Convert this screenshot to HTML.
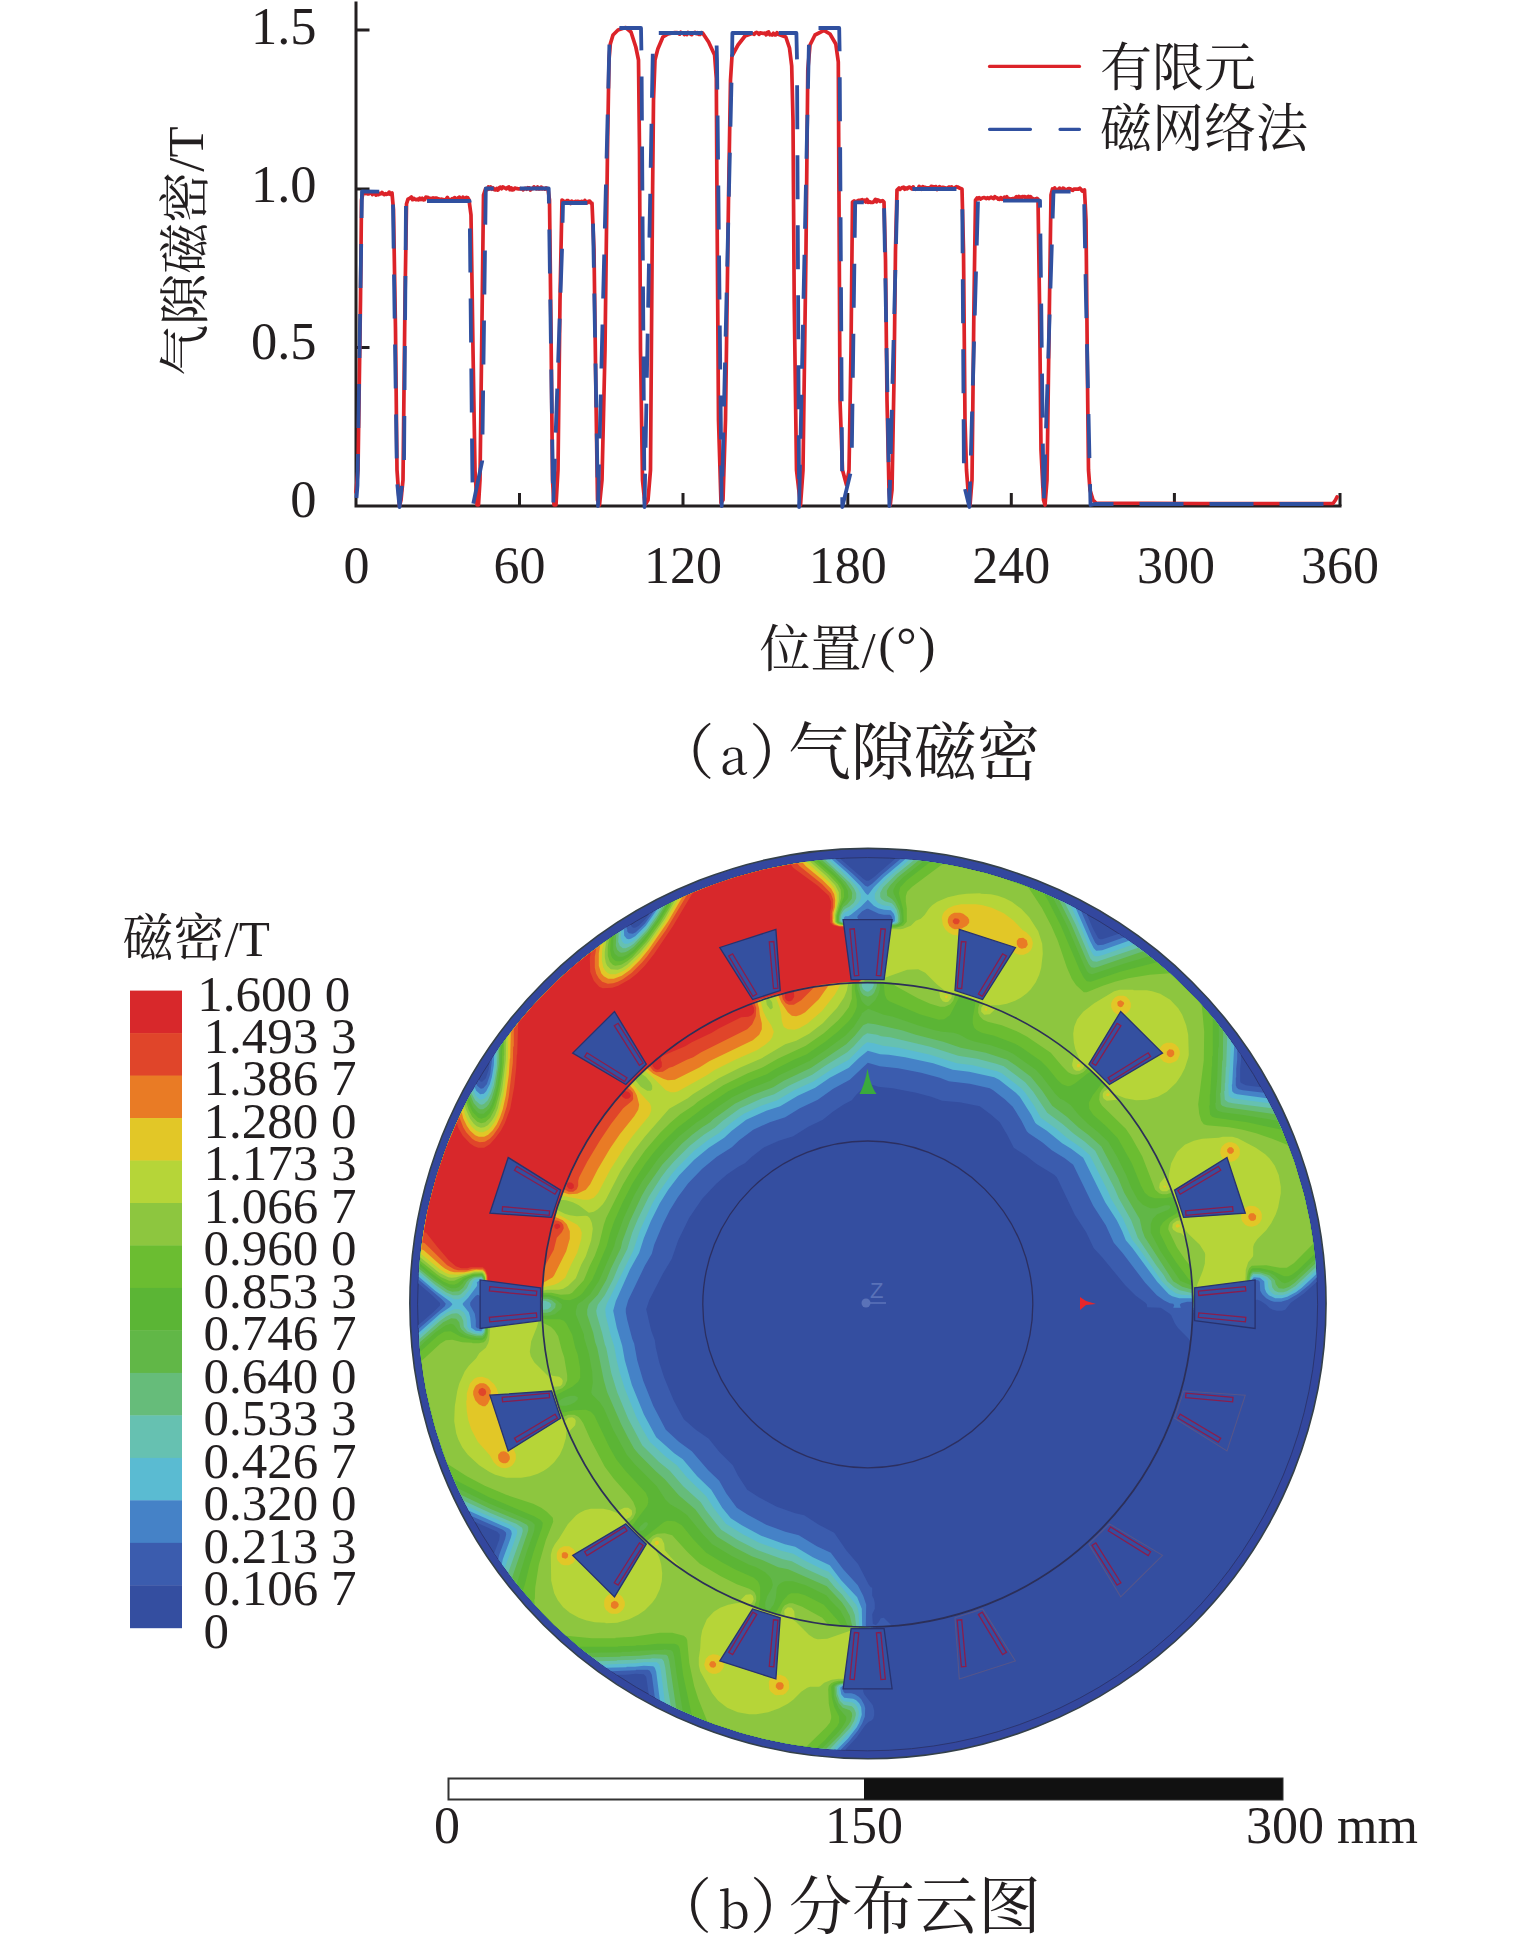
<!DOCTYPE html>
<html><head><meta charset="utf-8">
<style>
html,body{margin:0;padding:0;background:#fff;}
body{width:1535px;height:1946px;overflow:hidden;position:relative;}
svg{position:absolute;left:0;top:0;}
.t{font-family:"Liberation Serif","Noto Serif CJK SC",serif;fill:#231f20;}
.c{font-family:"Liberation Serif","Noto Serif CJK SC",serif;fill:#231f20;}
</style></head><body>
<svg width="1535" height="1946" viewBox="0 0 1535 1946" xmlns="http://www.w3.org/2000/svg">
<g id="chart">
<path d="M356,1.5 V506 H1341.5" fill="none" stroke="#231f20" stroke-width="3"/>
<path d="M356,30 H369.5 M356,189 H369.5 M356,347.5 H369.5 M519.5,506 V493 M683,506 V493 M847.8,506 V493 M1011.3,506 V493 M1174.4,506 V493 M1340,506 V493" stroke="#231f20" stroke-width="3" fill="none"/>
<path d="M356.0,492.0 L358.0,470.0 L360.5,300.0 L361.5,200.0 L363.0,193.0 L364.0,192.7 L365.2,193.6 L366.4,193.1 L367.6,193.8 L368.8,193.9 L370.0,192.1 L371.2,191.9 L372.4,194.6 L373.6,192.7 L374.8,192.6 L376.0,195.1 L377.2,193.4 L378.4,194.6 L379.6,193.4 L380.8,193.9 L382.0,192.4 L383.2,193.9 L384.4,194.7 L385.6,193.6 L386.8,194.3 L388.0,194.0 L389.2,192.1 L390.4,194.3 L392.0,193.0 L393.5,210.0 L395.5,330.0 L397.0,470.0 L399.5,506.0 L401.0,500.0 L403.0,480.0 L405.0,300.0 L406.5,204.0 L408.0,199.0 L409.0,198.8 L410.2,197.9 L411.4,197.0 L412.6,199.7 L413.8,198.4 L415.0,199.2 L416.2,199.7 L417.4,199.2 L418.6,199.8 L419.8,198.2 L421.0,199.5 L422.2,198.3 L423.4,199.9 L424.6,199.7 L425.8,197.2 L427.0,197.3 L428.2,197.6 L429.4,200.0 L430.6,198.3 L431.8,198.9 L433.0,197.9 L434.2,198.5 L435.4,198.1 L436.6,198.0 L437.8,198.8 L439.0,198.8 L440.2,199.8 L441.4,199.1 L442.6,199.9 L443.8,199.6 L445.0,200.1 L446.2,199.0 L447.4,197.4 L448.6,199.7 L449.8,200.0 L451.0,199.8 L452.2,198.7 L453.4,199.2 L454.6,197.6 L455.8,199.6 L457.0,198.7 L458.2,197.8 L459.4,197.1 L460.6,199.6 L461.8,200.1 L463.0,197.2 L464.2,199.5 L465.4,198.2 L466.6,197.4 L467.8,197.8 L469.0,200.0 L471.0,215.0 L473.0,350.0 L475.0,470.0 L477.0,505.0 L478.5,505.0 L480.0,480.0 L482.0,320.0 L483.5,195.0 L485.5,189.0 L486.0,189.4 L487.2,189.7 L488.4,187.0 L489.6,188.9 L490.8,187.0 L492.0,189.2 L493.2,188.0 L494.4,189.7 L495.6,190.0 L496.8,188.5 L498.0,190.1 L499.2,187.9 L500.4,187.1 L501.6,188.8 L502.8,187.0 L504.0,187.5 L505.2,188.2 L506.4,188.9 L507.6,187.4 L508.8,187.0 L510.0,189.7 L511.2,187.9 L512.4,190.0 L513.6,189.8 L514.8,188.1 L516.0,188.4 L517.2,188.6 L518.4,189.0 L519.6,188.8 L520.8,188.7 L522.0,188.9 L523.2,189.9 L524.4,188.5 L525.6,188.3 L526.8,189.2 L528.0,187.7 L529.2,187.9 L530.4,190.0 L531.6,188.6 L532.8,188.7 L534.0,186.9 L535.2,188.2 L536.4,188.8 L537.6,187.0 L538.8,188.9 L540.0,188.9 L541.2,187.1 L542.4,188.9 L543.6,188.4 L544.8,189.1 L546.0,188.0 L548.0,189.0 L549.5,200.0 L551.0,330.0 L552.5,480.0 L554.0,505.0 L556.0,505.0 L558.0,470.0 L560.0,300.0 L562.0,200.0 L563.5,201.0 L564.5,202.7 L565.7,202.8 L566.9,200.5 L568.1,200.6 L569.3,202.6 L570.5,203.5 L571.7,201.2 L572.9,201.9 L574.1,202.3 L575.3,201.4 L576.5,201.6 L577.7,201.4 L578.9,201.6 L580.1,202.3 L581.3,201.4 L582.5,201.6 L583.7,202.9 L584.9,200.5 L586.1,202.2 L587.3,202.8 L588.5,201.4 L589.7,201.1 L590.9,203.0 L592.0,203.0 L594.0,250.0 L596.0,400.0 L597.5,500.0 L599.5,505.0 L602.0,480.0 L605.0,350.0 L607.5,150.0 L609.0,60.0 L610.3,44.0 L613.0,35.0 L618.0,30.0 L625.6,27.5 L631.0,32.0 L635.8,47.0 L638.5,60.0 L639.5,150.0 L640.5,350.0 L642.5,480.0 L645.0,505.0 L648.0,500.0 L650.5,470.0 L652.5,200.0 L653.5,100.0 L655.0,60.0 L657.8,49.0 L662.9,37.0 L668.0,34.0 L674.7,32.5 L676.0,32.7 L677.2,32.6 L678.4,33.3 L679.6,34.1 L680.8,32.3 L682.0,33.0 L683.2,33.0 L684.4,34.5 L685.6,33.3 L686.8,34.6 L688.0,32.5 L689.2,33.0 L690.4,34.0 L691.6,34.7 L692.8,33.4 L694.0,32.7 L695.2,32.4 L696.4,33.6 L697.6,32.6 L698.8,34.4 L700.0,34.5 L701.2,32.6 L702.4,32.8 L703.6,34.4 L708.6,42.0 L714.6,55.0 L716.3,78.0 L717.0,200.0 L718.5,420.0 L721.0,503.0 L723.0,500.0 L725.5,420.0 L728.5,200.0 L730.5,80.0 L732.0,56.0 L738.0,45.0 L745.0,36.0 L752.0,33.5 L753.0,33.9 L754.2,34.4 L755.4,33.0 L756.6,32.4 L757.8,32.9 L759.0,34.4 L760.2,32.8 L761.4,33.0 L762.6,33.3 L763.8,33.3 L765.0,33.2 L766.2,34.8 L767.4,32.5 L768.6,32.0 L769.8,34.8 L771.0,34.6 L772.2,35.0 L773.4,33.3 L774.6,34.9 L775.8,34.8 L777.0,32.7 L778.2,34.2 L785.8,37.0 L789.5,48.0 L791.7,66.0 L793.0,120.0 L794.2,300.0 L796.5,470.0 L800.5,505.0 L803.0,470.0 L806.0,250.0 L807.8,70.0 L810.0,45.0 L815.0,35.0 L823.9,30.3 L830.0,34.0 L835.8,44.0 L838.3,62.0 L839.0,200.0 L840.0,400.0 L842.5,470.0 L846.5,485.0 L849.0,470.0 L851.0,350.0 L852.0,250.0 L852.5,202.0 L854.0,201.0 L855.0,202.1 L856.2,201.5 L857.4,201.1 L858.6,200.3 L859.8,200.5 L861.0,200.1 L862.2,199.6 L863.4,201.3 L864.6,200.3 L865.8,202.0 L867.0,199.5 L868.2,202.3 L869.4,201.6 L870.6,202.4 L871.8,202.3 L873.0,202.3 L874.2,201.2 L875.4,199.4 L876.6,201.8 L877.8,199.9 L879.0,200.4 L880.2,201.5 L881.4,201.1 L882.6,200.7 L884.0,202.0 L885.5,260.0 L887.0,400.0 L889.0,490.0 L890.2,505.0 L892.0,490.0 L894.0,380.0 L895.5,250.0 L897.0,190.0 L899.0,188.0 L900.0,189.4 L901.2,188.4 L902.4,187.5 L903.6,187.2 L904.8,189.2 L906.0,187.9 L907.2,188.9 L908.4,187.5 L909.6,187.0 L910.8,188.1 L912.0,189.0 L913.2,186.9 L914.4,188.9 L915.6,189.3 L916.8,189.0 L918.0,189.0 L919.2,186.4 L920.4,188.4 L921.6,189.2 L922.8,186.6 L924.0,187.3 L925.2,187.3 L926.4,188.1 L927.6,187.8 L928.8,187.9 L930.0,188.9 L931.2,186.4 L932.4,186.6 L933.6,186.8 L934.8,186.8 L936.0,186.6 L937.2,189.5 L938.4,189.1 L939.6,186.7 L940.8,188.0 L942.0,187.4 L943.2,187.4 L944.4,187.5 L945.6,188.5 L946.8,188.3 L948.0,187.6 L949.2,187.0 L950.4,187.5 L951.6,186.8 L952.8,188.2 L954.0,188.7 L955.2,187.6 L956.4,186.7 L957.6,187.0 L958.8,187.6 L960.0,188.3 L962.0,189.0 L963.5,250.0 L965.0,420.0 L966.5,470.0 L968.0,490.0 L970.0,505.0 L972.0,480.0 L974.0,300.0 L975.5,200.0 L977.0,198.0 L978.0,198.9 L979.2,197.6 L980.4,199.0 L981.6,198.4 L982.8,197.8 L984.0,197.6 L985.2,198.0 L986.4,198.6 L987.6,197.7 L988.8,198.6 L990.0,197.9 L991.2,197.2 L992.4,198.1 L993.6,198.6 L994.8,196.6 L996.0,197.8 L997.2,197.8 L998.4,199.2 L999.6,199.4 L1000.8,197.6 L1002.0,199.3 L1003.2,198.9 L1004.4,197.2 L1005.6,197.9 L1006.8,196.8 L1008.0,199.0 L1009.2,198.5 L1010.4,199.2 L1011.6,198.9 L1012.8,198.5 L1014.0,198.7 L1015.2,198.2 L1016.4,196.7 L1017.6,198.3 L1018.8,196.4 L1020.0,196.9 L1021.2,198.9 L1022.4,196.5 L1023.6,196.7 L1024.8,196.7 L1026.0,199.2 L1027.2,197.0 L1028.4,196.5 L1029.6,199.1 L1030.8,196.8 L1032.0,199.1 L1033.2,198.6 L1034.4,199.1 L1035.6,199.4 L1036.8,198.3 L1038.0,199.0 L1039.5,300.0 L1041.0,450.0 L1043.5,500.0 L1045.0,505.0 L1047.0,480.0 L1049.5,300.0 L1051.0,195.0 L1052.5,189.0 L1053.5,190.5 L1054.7,188.0 L1055.9,190.4 L1057.1,189.5 L1058.3,190.2 L1059.5,188.2 L1060.7,190.3 L1061.9,190.9 L1063.1,188.1 L1064.3,188.9 L1065.5,189.7 L1066.7,190.5 L1067.9,188.7 L1069.1,188.5 L1070.3,188.7 L1071.5,189.9 L1072.7,190.3 L1073.9,189.2 L1075.1,189.1 L1076.3,189.2 L1077.5,189.0 L1078.7,189.2 L1079.9,188.2 L1081.1,189.5 L1082.3,191.0 L1084.5,190.0 L1086.0,220.0 L1087.7,400.0 L1088.5,470.0 L1090.0,490.0 L1093.0,500.0 L1096.0,503.0 L1200.0,503.5 L1333.0,503.5 L1335.5,500.0 L1337.0,497.0" fill="none" stroke="#dc2329" stroke-width="3.7" stroke-linejoin="round" stroke-linecap="round"/>
<path d="M356.5,498.0 L357.5,485.0 L362.0,191.3 L392.8,192.0 L397.0,481.0 L399.5,507.0 L404.0,467.0 L406.0,201.0 L469.6,201.0 L472.3,469.0 L472.8,506.0 L482.2,461.0 L485.8,188.5 L548.7,188.5 L553.2,506.0 L562.0,250.0 L563.0,203.0 L592.7,203.0 L598.0,506.0 L609.5,40.0 L610.0,28.0 L641.0,28.0 L641.5,56.0 L644.5,507.0 L653.0,41.0 L653.5,33.0 L716.3,33.0 L717.0,60.0 L721.7,506.0 L732.0,60.0 L732.4,33.0 L796.4,33.0 L797.0,60.0 L799.1,507.0 L809.0,40.0 L809.3,28.0 L839.2,28.0 L839.6,50.0 L842.3,507.0 L851.6,468.6 L855.2,202.4 L884.0,202.4 L889.4,506.0 L897.4,189.0 L962.2,189.0 L964.0,485.0 L969.4,507.0 L978.0,200.6 L1040.0,200.6 L1043.6,506.0 L1053.5,191.6 L1084.0,191.6 L1086.0,300.0 L1090.5,505.0 L1095.0,504.0 L1338.0,504.0" fill="none" stroke="#3050a0" stroke-width="3.8" stroke-dasharray="44 26" stroke-linejoin="round"/>
<g class="t" font-size="52.5" text-anchor="end" transform="translate(3.5,0)">
<text x="313" y="43.5">1.5</text>
<text x="313" y="201.5">1.0</text>
<text x="313" y="358.5">0.5</text>
<text x="313" y="516.5">0</text>
</g>
<g class="t" font-size="52" text-anchor="middle">
<text x="356.5" y="583">0</text>
<text x="519.5" y="583">60</text>
<text x="683" y="583">120</text>
<text x="847.8" y="583">180</text>
<text x="1011.3" y="583">240</text>
<text x="1176" y="583">300</text>
<text x="1340" y="583">360</text>
</g>
<text class="c" font-size="51" transform="translate(202.5,251) rotate(-90)" text-anchor="middle">气隙磁密/T</text>
<text class="c" font-size="51" x="759.5" y="667">位置/<tspan dx="2.5" dy="-5">(</tspan><tspan dx="1">°</tspan><tspan dx="2">)</tspan></text>
<path d="M989.5,66.4 H1079.5" stroke="#dc2329" stroke-width="3.2" stroke-linecap="round"/>
<path d="M989.5,129.3 H1030.5 M1060,129.3 H1079.5" stroke="#3050a0" stroke-width="3.2" stroke-linecap="round"/>
<text class="c" font-size="52" x="1100" y="85.5">有限元</text>
<text class="c" font-size="52" x="1100" y="147">磁网络法</text>
<text class="c" font-size="60" y="773.5"><tspan x="654.5">（</tspan><tspan x="720" font-family="Noto Serif CJK SC" font-size="50">a</tspan><tspan x="749">）</tspan><tspan x="788" font-size="63">气隙磁密</tspan></text>
</g>
<g id="contour">
<ellipse cx="867.95" cy="1303.6" rx="458.1" ry="455.2" fill="#33479e" stroke="#34404a" stroke-width="1.6"/>
<ellipse cx="867.6" cy="1304.2" rx="450.0" ry="446.62" fill="#344ea0" stroke="#2b3570" stroke-width="1"/>
<path fill="#3b5cae" fill-rule="evenodd" d="M899.8,858.8 895.2,858.8 873.8,877.2 868.8,880.8 866.2,880.8 863.2,878.8 840.2,858.8 814.2,860.8 784.8,865.2 763.2,869.8 730.8,878.8 711.8,885.2 686.8,895.2 649.2,913.8 645.8,918.8 638.8,925.8 635.2,927.8 633.2,927.8 631.8,926.8 630.8,924.8 626.2,927.2 601.2,944.2 572.2,967.2 556.2,981.8 540.2,997.8 529.2,1009.8 512.2,1030.2 500.2,1046.2 489.8,1061.8 488.8,1069.2 485.8,1078.2 482.2,1081.8 480.8,1081.8 478.8,1079.8 466.8,1101.2 455.8,1124.2 443.8,1154.2 433.8,1185.8 429.2,1203.2 424.2,1227.8 420.8,1251.8 419.2,1272.2 418.8,1272.8 418.2,1283.2 432.2,1295.2 439.8,1302.8 440.2,1304.2 439.8,1305.8 433.2,1312.2 418.2,1325.2 418.2,1327.8 418.8,1328.2 418.8,1335.8 419.2,1336.2 420.8,1356.8 425.8,1388.8 433.8,1422.8 443.2,1452.8 456.2,1485.2 474.8,1521.8 497.2,1531.8 499.8,1534.8 499.2,1539.8 494.2,1553.2 510.8,1576.2 530.2,1599.8 542.2,1612.8 562.2,1632.2 583.8,1650.8 602.8,1665.2 616.8,1674.8 626.2,1674.8 635.8,1673.8 643.8,1674.2 646.2,1676.8 648.8,1694.2 673.8,1707.2 709.2,1722.2 734.2,1730.8 751.8,1735.8 772.8,1740.8 796.8,1745.2 836.8,1749.8 845.2,1749.8 856.8,1737.2 865.2,1725.2 868.8,1721.8 871.2,1720.8 873.2,1718.8 874.2,1715.2 874.2,1710.8 872.8,1705.2 864.2,1694.2 863.2,1691.8 863.2,1689.2 864.8,1687.8 874.2,1685.2 877.2,1681.8 877.8,1678.2 877.2,1657.2 876.8,1656.8 876.8,1641.2 876.2,1640.8 875.8,1626.8 876.2,1626.2 891.8,1625.8 883.8,1617.8 880.8,1618.2 878.2,1622.8 875.8,1625.2 872.8,1623.8 872.2,1614.2 874.8,1608.8 874.8,1603.2 873.8,1598.8 872.2,1595.8 872.2,1587.8 870.8,1587.2 868.8,1584.8 858.2,1564.2 846.2,1550.2 834.2,1532.8 818.8,1524.8 804.2,1515.2 795.2,1513.2 776.8,1506.8 758.8,1497.2 747.2,1489.8 737.8,1475.2 732.8,1465.2 719.2,1451.8 708.8,1438.8 695.8,1429.8 683.8,1419.2 673.8,1400.8 664.2,1377.8 659.2,1362.2 655.8,1347.8 654.8,1340.2 651.2,1330.8 646.2,1309.2 649.2,1300.2 662.8,1273.8 671.8,1258.8 678.2,1240.2 689.2,1217.8 702.2,1198.8 716.2,1183.8 727.2,1174.2 738.2,1166.8 744.8,1163.2 751.8,1156.8 764.2,1147.2 778.8,1140.8 793.2,1136.2 808.2,1126.8 822.8,1119.8 832.8,1111.8 843.2,1104.8 851.8,1100.2 856.2,1094.8 867.2,1083.8 869.2,1083.8 878.2,1086.8 892.8,1088.2 916.2,1092.8 931.2,1096.8 942.2,1100.8 959.8,1102.2 979.8,1106.2 991.2,1114.8 999.8,1122.2 1007.2,1134.8 1013.8,1147.8 1026.2,1155.8 1036.2,1163.8 1054.2,1174.8 1056.8,1177.2 1074.8,1214.8 1086.2,1232.2 1093.8,1248.2 1102.2,1257.2 1124.8,1284.8 1135.8,1295.8 1144.8,1302.2 1146.8,1304.2 1147.2,1307.2 1160.8,1307.8 1169.8,1313.8 1171.2,1315.2 1174.8,1323.2 1177.8,1327.8 1188.2,1338.2 1190.2,1341.2 1191.8,1327.2 1192.2,1312.8 1192.8,1312.2 1193.2,1312.8 1221.8,1313.2 1222.2,1313.8 1240.2,1313.8 1240.8,1314.2 1247.8,1313.8 1251.2,1311.2 1253.2,1306.2 1254.2,1300.8 1255.8,1299.8 1257.8,1299.8 1261.2,1301.2 1266.2,1304.8 1269.8,1308.2 1272.8,1309.8 1276.8,1310.8 1282.2,1310.8 1285.2,1309.8 1290.8,1302.8 1304.2,1293.2 1316.8,1281.8 1315.8,1263.8 1313.2,1242.2 1306.8,1206.8 1301.8,1186.8 1295.8,1166.8 1282.2,1130.8 1276.2,1117.2 1260.8,1087.2 1245.8,1085.2 1240.8,1082.8 1240.2,1081.2 1240.2,1068.2 1241.2,1059.2 1240.8,1054.8 1223.8,1031.2 1197.8,1000.8 1175.8,978.8 1158.2,963.2 1133.2,943.8 1118.8,933.8 1102.2,939.2 1100.2,939.2 1098.2,938.2 1092.8,928.2 1086.8,914.2 1063.8,902.2 1043.8,893.2 1020.8,884.2 985.8,873.2 947.8,864.8 928.8,861.8Z"/>
<path fill="#4582c7" fill-rule="evenodd" d="M906.2,859.2 900.2,859.2 881.8,874.8 872.2,883.8 867.8,886.8 865.2,885.8 853.2,874.2 835.2,858.8 806.2,861.8 784.8,865.2 763.2,869.8 730.8,878.8 711.8,885.2 690.2,893.8 653.8,911.2 644.8,923.8 635.8,932.2 632.8,933.8 628.8,933.2 627.2,931.2 627.2,929.2 626.2,927.2 601.2,944.2 575.8,964.2 556.2,981.8 540.2,997.8 529.2,1009.8 512.2,1030.2 500.2,1046.2 492.2,1058.2 490.2,1074.2 486.8,1084.2 483.2,1088.2 480.8,1088.8 477.2,1085.8 476.2,1083.8 466.8,1101.2 451.2,1134.8 443.8,1154.2 435.8,1178.8 429.2,1203.2 425.2,1222.2 421.8,1243.8 419.2,1266.2 418.8,1279.8 441.8,1299.2 445.8,1303.8 444.8,1306.2 418.8,1328.8 419.8,1347.8 423.8,1377.8 429.8,1407.2 437.8,1436.2 443.2,1452.8 451.8,1474.8 458.8,1490.8 471.8,1516.2 502.8,1529.8 505.8,1532.2 506.2,1534.2 505.2,1538.8 499.2,1554.8 498.2,1559.2 510.8,1576.2 523.8,1592.2 542.2,1612.8 562.2,1632.2 586.2,1652.8 611.2,1671.2 635.8,1670.2 636.2,1669.8 647.8,1669.8 649.8,1670.8 651.8,1674.8 654.8,1697.2 656.8,1698.8 673.8,1707.2 695.2,1716.8 714.8,1724.2 739.2,1732.2 763.8,1738.8 785.2,1743.2 807.2,1746.8 830.2,1749.2 840.8,1749.8 849.2,1741.2 857.8,1730.8 862.2,1723.2 864.8,1716.8 865.2,1708.2 864.2,1704.8 861.2,1699.2 858.8,1696.8 854.8,1694.2 851.2,1693.2 844.8,1693.2 843.2,1691.2 842.8,1687.8 844.2,1686.8 857.8,1687.2 867.2,1685.8 872.2,1683.8 874.8,1678.8 874.2,1645.8 873.8,1645.2 873.2,1626.8 866.8,1627.2 865.8,1625.2 866.2,1604.8 863.2,1595.8 857.8,1585.2 843.2,1569.2 830.8,1552.8 816.8,1546.2 798.8,1535.2 785.2,1531.8 766.2,1524.8 747.8,1514.8 736.8,1507.8 726.2,1493.2 719.2,1480.8 708.2,1470.2 691.8,1451.2 678.8,1441.8 665.8,1429.8 653.2,1405.8 643.2,1380.8 637.2,1360.2 634.2,1343.8 632.2,1338.8 627.2,1319.8 625.8,1312.2 625.8,1308.8 628.2,1300.2 644.8,1265.8 651.8,1253.8 654.2,1244.8 662.8,1224.2 669.8,1210.2 677.8,1197.2 688.2,1183.2 702.2,1168.8 716.8,1156.8 731.8,1147.2 739.2,1140.2 753.2,1129.8 769.8,1122.2 785.2,1117.2 799.8,1108.2 817.8,1099.8 833.2,1088.8 849.8,1079.8 867.8,1062.8 879.8,1066.2 898.2,1068.2 921.2,1072.8 939.8,1077.8 948.8,1081.2 969.8,1083.8 989.8,1088.2 993.2,1090.2 1004.8,1099.2 1012.8,1106.8 1021.2,1120.2 1026.8,1131.2 1028.8,1133.2 1042.2,1142.2 1051.8,1150.2 1064.8,1158.2 1073.2,1164.8 1093.2,1205.8 1105.8,1225.2 1113.8,1242.8 1122.8,1253.2 1145.2,1282.8 1156.8,1295.2 1163.8,1300.2 1169.8,1303.2 1173.2,1303.8 1174.2,1305.2 1173.2,1307.8 1180.8,1307.8 1179.8,1304.8 1181.2,1303.2 1187.2,1301.8 1192.2,1301.8 1192.8,1302.2 1192.8,1309.8 1195.2,1310.2 1245.8,1311.2 1248.2,1310.2 1250.2,1308.2 1251.8,1304.8 1253.8,1290.8 1253.2,1280.8 1254.2,1279.8 1258.2,1280.2 1259.8,1281.8 1260.2,1290.8 1262.2,1294.2 1266.2,1298.2 1270.8,1300.8 1274.2,1301.8 1281.2,1301.8 1287.8,1299.8 1298.2,1293.8 1308.8,1285.2 1316.8,1277.2 1313.2,1242.2 1309.8,1221.2 1304.8,1198.2 1293.8,1160.8 1280.8,1127.2 1263.8,1092.8 1242.8,1090.2 1238.8,1089.2 1236.8,1087.8 1235.8,1085.2 1235.8,1077.8 1236.2,1077.2 1236.2,1068.8 1237.2,1059.8 1237.2,1049.8 1215.8,1021.2 1197.8,1000.8 1175.8,978.8 1165.2,969.2 1145.2,952.8 1124.8,937.8 1122.8,937.8 1103.2,944.8 1097.8,945.2 1095.2,942.8 1091.8,935.8 1081.2,911.2 1063.8,902.2 1043.8,893.2 1020.8,884.2 985.8,873.2 947.8,864.8 928.8,861.8ZM477.8,1294.8 480.8,1296.2 481.8,1299.8 481.8,1325.2 482.2,1326.8 481.2,1328.8 477.2,1328.2 475.8,1326.8 475.8,1320.2 474.8,1313.8 470.2,1305.2 470.2,1302.8 471.8,1300.2 475.8,1295.8ZM857.2,917.2 857.8,915.8 862.2,911.2 866.8,908.8 868.2,908.8 878.8,913.8 883.8,914.8 889.8,914.8 891.2,915.8 892.2,917.8 892.2,920.8 890.8,921.8 888.8,921.2 862.8,921.2 858.8,920.2Z"/>
<path fill="#5abbd2" fill-rule="evenodd" d="M905.2,859.2 883.8,877.2 873.8,887.2 868.2,894.8 867.2,894.8 865.2,892.8 860.2,885.8 847.2,872.8 831.8,859.2 806.2,861.8 784.8,865.2 763.2,869.8 730.8,878.8 711.8,885.2 690.2,893.8 656.8,909.8 645.8,925.8 635.2,936.2 630.8,938.8 628.8,939.2 626.8,938.8 624.2,935.8 623.8,929.2 601.2,944.2 575.8,964.2 556.2,981.8 533.8,1004.8 518.2,1022.8 500.2,1046.2 494.2,1055.2 493.8,1065.2 491.8,1077.2 489.8,1084.2 486.2,1091.2 483.8,1093.8 480.2,1094.2 476.2,1090.8 474.8,1087.2 466.8,1101.2 451.2,1134.8 443.8,1154.2 435.8,1178.8 429.2,1203.2 425.2,1222.2 421.8,1243.8 419.2,1266.2 418.8,1276.8 435.2,1290.8 449.8,1301.2 452.2,1303.8 452.2,1304.8 449.8,1307.2 440.2,1313.8 418.8,1332.8 420.8,1356.8 425.8,1388.8 431.8,1415.2 437.8,1436.2 443.2,1452.8 451.8,1474.8 458.8,1490.8 468.8,1510.8 509.2,1528.8 511.2,1530.8 511.8,1533.8 510.8,1537.8 502.8,1559.2 501.8,1564.2 523.8,1592.2 542.2,1612.8 562.2,1632.2 583.8,1650.8 606.2,1667.8 626.2,1667.2 626.8,1666.8 634.8,1666.8 643.8,1665.8 653.2,1666.2 654.8,1667.8 656.2,1671.8 659.8,1699.8 660.8,1700.8 695.2,1716.8 714.8,1724.2 739.2,1732.2 763.8,1738.8 785.2,1743.2 807.2,1746.8 830.2,1749.2 836.2,1749.2 836.8,1749.8 847.8,1738.8 856.8,1727.2 859.2,1722.8 861.8,1714.8 861.2,1707.2 859.2,1703.2 856.2,1700.2 853.2,1698.8 844.2,1697.8 841.2,1694.2 840.2,1687.8 842.8,1685.8 856.2,1686.2 866.2,1684.8 870.2,1682.8 872.2,1679.2 871.2,1626.8 864.8,1627.2 862.2,1626.2 861.8,1608.8 857.2,1597.2 841.2,1580.2 829.8,1565.2 812.8,1557.2 795.2,1546.8 784.8,1544.2 761.2,1535.8 741.8,1525.2 730.8,1518.2 722.2,1507.8 711.2,1489.8 697.2,1476.2 682.8,1459.2 674.2,1453.2 656.2,1437.2 643.8,1414.2 631.8,1384.8 624.8,1360.2 622.2,1345.8 616.8,1327.8 613.2,1310.8 615.8,1301.2 629.8,1269.8 639.2,1252.8 643.8,1238.2 650.8,1221.2 659.8,1203.2 668.2,1189.8 679.2,1175.2 694.2,1159.8 708.8,1147.8 724.2,1137.8 731.8,1130.8 746.2,1119.8 766.2,1110.8 780.2,1106.2 797.8,1095.8 815.2,1087.8 829.8,1077.8 848.8,1067.8 859.2,1057.8 867.8,1050.8 880.2,1054.2 888.8,1054.8 905.2,1057.2 933.2,1063.2 952.8,1069.8 969.2,1071.8 994.2,1077.2 999.2,1079.8 1015.8,1092.8 1019.8,1096.8 1031.2,1114.8 1035.2,1122.8 1036.8,1124.2 1046.8,1130.8 1062.2,1143.2 1071.2,1148.8 1083.2,1157.8 1105.2,1202.2 1116.8,1220.2 1122.2,1231.2 1125.8,1240.2 1132.2,1247.8 1157.2,1281.8 1168.8,1294.2 1172.2,1296.2 1179.2,1298.2 1191.2,1298.2 1192.8,1299.2 1192.8,1307.8 1217.8,1308.2 1218.2,1308.8 1245.8,1308.8 1247.2,1308.2 1249.8,1305.8 1251.2,1301.8 1252.2,1296.2 1252.2,1282.2 1251.8,1281.8 1252.2,1279.2 1253.8,1277.2 1259.8,1277.8 1264.2,1281.2 1264.8,1288.8 1266.2,1292.2 1268.8,1295.2 1275.2,1298.2 1281.8,1298.2 1287.2,1296.8 1295.8,1292.2 1301.8,1287.8 1316.2,1274.2 1315.8,1263.8 1313.2,1242.2 1309.8,1221.2 1304.8,1198.2 1293.8,1160.8 1280.8,1127.2 1266.8,1098.2 1237.2,1094.2 1234.2,1093.2 1232.2,1091.2 1231.8,1084.8 1232.2,1084.2 1234.2,1045.8 1215.8,1021.2 1197.8,1000.8 1175.8,978.8 1165.2,969.2 1145.2,952.8 1128.8,940.8 1102.2,950.2 1096.2,950.8 1093.8,948.2 1090.2,941.2 1075.8,908.2 1063.8,902.2 1043.8,893.2 1020.8,884.2 985.8,873.2 947.8,864.8 928.8,861.8ZM479.8,1280.2 481.8,1281.2 481.2,1292.2 482.8,1299.2 483.2,1328.2 481.2,1331.2 475.8,1330.8 471.2,1327.8 470.2,1317.2 468.8,1312.2 462.8,1304.8 462.8,1303.2 468.2,1297.8 476.8,1286.2 477.2,1284.8 476.8,1282.2ZM843.8,917.8 845.2,916.2 848.2,916.2 850.8,914.8 860.8,906.8 867.8,899.8 873.8,905.8 878.2,908.2 884.2,909.8 890.8,910.2 893.8,913.8 894.8,916.8 894.8,921.2 891.8,922.8 862.2,922.2 854.8,920.8 844.2,921.2Z"/>
<path fill="#66c1b1" fill-rule="evenodd" d="M911.8,859.8 908.8,860.2 887.2,878.2 879.8,885.8 874.8,893.8 874.8,898.8 877.8,902.8 882.8,905.2 890.2,906.2 894.2,909.8 896.2,914.8 896.8,920.8 895.8,922.2 893.8,923.2 890.2,923.8 889.8,923.2 878.8,923.2 878.2,922.8 861.2,922.8 857.8,921.8 847.8,921.8 847.2,922.2 842.8,921.8 841.8,920.8 841.8,917.2 842.8,914.8 844.2,912.8 852.2,908.8 858.2,903.2 860.8,898.8 860.8,894.2 858.2,888.8 855.2,884.8 840.8,870.2 828.8,859.8 823.2,859.8 796.2,863.2 763.2,869.8 730.8,878.8 696.2,891.2 676.8,899.8 659.8,908.2 658.2,909.8 652.8,919.2 645.2,929.2 636.8,938.2 632.2,941.8 627.8,943.8 624.8,943.8 623.2,942.8 621.8,940.8 620.8,937.2 621.2,930.8 601.2,944.2 584.2,957.2 563.2,975.2 540.2,997.8 518.2,1022.8 495.8,1052.8 495.8,1062.2 493.2,1079.2 490.8,1088.2 486.8,1096.2 484.2,1098.8 480.8,1099.8 478.8,1098.8 475.8,1095.8 473.2,1090.2 471.2,1092.8 462.2,1110.2 451.2,1134.8 443.8,1154.2 437.2,1173.8 427.2,1212.2 423.2,1233.8 419.8,1260.8 418.8,1273.8 443.2,1293.8 454.2,1299.2 458.8,1299.2 463.8,1296.8 470.2,1288.8 473.2,1281.2 475.8,1279.2 480.8,1278.2 482.2,1279.2 482.8,1280.8 482.2,1294.2 483.2,1297.8 483.2,1315.2 483.8,1315.8 483.8,1325.8 484.2,1326.2 483.8,1330.2 482.8,1332.2 480.8,1333.2 475.8,1332.8 469.2,1329.8 467.2,1326.8 466.8,1319.2 465.8,1315.8 463.8,1312.2 459.2,1309.2 454.2,1309.2 447.2,1312.2 440.2,1317.2 419.2,1335.8 419.8,1347.8 425.8,1388.8 429.8,1407.2 435.8,1429.8 443.2,1452.8 451.8,1474.8 466.2,1505.8 483.2,1513.8 510.8,1525.2 516.8,1529.2 517.2,1532.2 516.2,1536.2 504.8,1567.8 516.2,1583.2 534.8,1604.8 554.2,1624.8 578.2,1646.2 602.2,1664.8 635.8,1663.2 644.2,1662.2 656.8,1662.2 659.2,1664.2 660.8,1669.8 664.8,1701.8 665.8,1703.2 680.2,1710.2 702.8,1719.8 739.2,1732.2 763.8,1738.8 785.2,1743.2 819.8,1748.2 833.8,1749.2 851.2,1730.8 856.8,1721.8 858.8,1714.8 858.8,1711.2 857.2,1706.8 854.8,1703.8 851.8,1702.2 843.8,1701.2 841.2,1698.8 838.8,1692.8 838.8,1686.8 843.2,1684.8 847.2,1685.2 861.8,1684.8 867.2,1682.8 869.2,1680.8 870.2,1677.2 869.2,1627.2 859.2,1626.2 858.8,1614.2 857.8,1608.2 856.2,1604.8 828.8,1571.8 822.2,1569.2 804.2,1560.2 793.2,1553.8 781.2,1550.8 759.2,1542.8 742.8,1534.2 725.8,1523.8 713.8,1508.2 706.2,1496.2 686.8,1477.2 676.8,1465.2 665.8,1456.8 650.2,1442.2 642.8,1429.8 636.2,1416.8 624.8,1388.8 619.8,1372.8 616.8,1360.8 614.2,1346.2 610.8,1335.8 605.8,1315.8 605.2,1309.2 606.8,1303.8 633.2,1250.8 640.2,1229.8 652.2,1203.8 659.2,1191.8 671.2,1174.8 677.2,1167.8 694.2,1150.8 707.8,1140.2 718.8,1133.2 731.8,1122.2 743.8,1113.8 761.2,1105.8 777.2,1100.2 794.2,1090.2 813.8,1081.2 833.2,1068.2 848.8,1059.8 863.8,1044.8 867.2,1042.2 873.8,1043.2 882.8,1045.8 898.8,1047.8 930.2,1054.8 956.8,1063.2 972.8,1065.2 997.2,1071.2 1001.8,1073.2 1021.8,1088.8 1025.2,1092.8 1033.8,1105.2 1040.8,1117.8 1056.2,1128.8 1066.8,1137.8 1081.2,1147.8 1089.8,1155.2 1108.2,1191.8 1110.8,1198.2 1122.8,1218.2 1132.2,1239.8 1138.2,1247.2 1162.2,1281.8 1168.8,1288.2 1175.8,1293.2 1181.8,1294.8 1190.8,1295.2 1192.8,1296.2 1192.8,1305.8 1218.8,1306.2 1219.2,1306.8 1244.2,1306.8 1246.2,1306.2 1248.8,1304.2 1250.8,1299.8 1251.8,1292.2 1251.2,1278.8 1251.8,1277.2 1253.8,1275.2 1259.8,1275.8 1264.8,1277.8 1267.8,1280.8 1268.2,1286.8 1269.8,1290.8 1272.8,1293.8 1274.8,1294.8 1282.2,1295.2 1288.8,1293.2 1296.2,1288.8 1316.2,1270.2 1312.2,1235.8 1304.8,1198.2 1293.8,1160.8 1280.8,1127.2 1269.2,1103.2 1235.2,1098.8 1231.2,1097.8 1228.8,1095.8 1228.2,1084.2 1228.8,1083.8 1228.8,1076.2 1229.8,1067.8 1230.8,1040.8 1215.8,1021.2 1197.8,1000.8 1175.8,978.8 1165.2,969.2 1145.2,952.8 1133.8,944.2 1103.8,954.8 1098.2,956.2 1094.8,956.2 1092.8,954.2 1089.8,948.8 1082.8,931.8 1070.8,905.8 1043.8,893.2 1020.8,884.2 985.8,873.2 953.2,865.8 935.8,862.8ZM866.2,982.8 868.2,981.8 868.8,983.8 867.2,984.2Z"/>
<path fill="#66bc7a" fill-rule="evenodd" d="M916.8,860.2 913.8,860.2 895.8,874.8 883.2,887.2 880.2,892.8 880.2,896.8 881.2,898.8 884.8,901.2 891.8,903.2 894.2,905.8 896.8,910.2 898.2,916.2 898.2,921.2 897.2,922.8 893.2,924.2 862.8,923.8 857.2,922.2 849.2,922.2 848.8,922.8 841.8,922.2 840.2,920.8 840.8,915.2 842.8,911.2 845.2,908.8 849.2,906.8 853.8,902.8 856.2,898.2 856.2,893.2 854.2,888.8 849.8,882.8 825.2,859.8 796.2,863.2 763.2,869.8 730.8,878.8 696.2,891.2 676.8,899.8 661.8,907.2 657.2,915.2 646.2,930.8 633.8,943.8 630.2,946.2 625.8,948.2 622.8,948.2 619.8,945.8 618.2,941.8 618.8,932.2 601.2,944.2 586.8,955.2 563.2,975.2 540.2,997.8 518.2,1022.8 500.2,1046.2 497.8,1050.2 496.8,1068.2 493.8,1085.2 491.2,1093.2 487.8,1100.2 484.2,1103.8 481.8,1104.8 479.8,1104.2 475.2,1100.2 471.2,1092.8 462.2,1110.2 451.2,1134.8 443.8,1154.2 437.2,1173.8 427.2,1212.2 423.2,1233.8 420.8,1251.8 419.2,1271.2 435.2,1284.8 445.8,1292.2 452.8,1295.2 458.2,1295.2 460.8,1294.2 466.8,1288.2 469.8,1281.8 472.2,1279.2 475.2,1277.8 481.8,1277.2 483.2,1279.8 482.8,1294.2 484.2,1299.8 484.2,1321.8 484.8,1322.2 484.8,1329.8 483.8,1332.8 481.8,1334.8 477.8,1334.8 472.8,1333.8 467.2,1331.2 463.8,1326.8 463.2,1320.8 461.2,1316.2 458.2,1313.8 456.2,1313.2 451.8,1313.8 445.8,1316.8 440.2,1320.8 419.2,1339.2 419.8,1347.8 425.8,1388.8 429.8,1407.2 435.8,1429.8 446.8,1462.2 456.2,1485.2 463.8,1500.8 489.8,1512.8 516.2,1523.8 522.2,1527.8 522.8,1530.8 521.8,1534.8 508.2,1572.8 514.2,1580.8 534.8,1604.8 554.2,1624.8 578.2,1646.2 597.8,1661.2 616.8,1660.8 617.2,1660.2 635.8,1659.8 636.2,1659.2 651.2,1658.8 651.8,1658.2 661.8,1658.8 663.8,1661.2 665.2,1667.2 667.8,1688.2 670.8,1705.8 702.8,1719.8 739.2,1732.2 772.8,1740.8 796.8,1745.2 815.2,1747.8 830.2,1748.8 850.2,1727.8 854.2,1720.8 855.8,1715.2 855.8,1712.8 854.2,1708.8 851.8,1706.2 843.8,1704.8 839.8,1700.8 837.2,1693.8 836.8,1687.2 838.8,1685.2 841.2,1684.2 850.8,1684.2 851.2,1684.8 859.8,1684.2 865.2,1682.2 867.2,1680.2 868.2,1675.2 867.2,1627.2 856.8,1626.8 856.2,1626.2 854.8,1614.8 852.2,1608.2 842.2,1594.8 835.2,1587.8 827.8,1578.8 805.8,1568.8 791.8,1561.2 782.8,1559.2 756.8,1549.8 737.2,1539.8 721.2,1529.8 705.8,1510.2 700.8,1502.2 683.2,1486.2 669.8,1470.8 658.8,1461.8 642.2,1445.2 628.2,1418.8 617.2,1392.2 611.2,1372.8 606.2,1347.8 604.8,1344.2 602.2,1333.2 596.8,1314.8 596.2,1310.8 597.8,1304.8 604.8,1295.2 613.2,1279.2 618.8,1265.8 627.2,1249.2 632.2,1232.8 637.8,1219.2 648.8,1196.8 661.2,1177.2 667.2,1169.2 674.2,1161.2 689.8,1145.8 703.8,1134.8 714.8,1127.8 722.8,1120.8 740.2,1108.2 762.2,1098.2 774.2,1094.2 788.8,1085.8 812.2,1074.8 825.2,1065.8 847.2,1052.2 853.8,1046.2 863.2,1035.8 867.2,1033.2 877.2,1034.8 881.2,1036.2 890.2,1037.2 930.2,1046.8 958.2,1055.8 977.2,1058.8 996.2,1063.8 1003.8,1066.2 1025.2,1082.2 1033.2,1091.8 1047.2,1112.8 1062.8,1124.2 1073.8,1133.8 1084.2,1141.2 1095.2,1150.8 1114.2,1187.8 1118.8,1198.2 1131.2,1220.2 1137.8,1237.8 1156.2,1265.2 1163.8,1275.2 1167.2,1281.2 1174.2,1287.2 1179.8,1290.2 1192.8,1293.2 1192.8,1303.8 1212.2,1304.2 1212.8,1304.8 1243.2,1304.8 1245.8,1304.2 1248.8,1301.8 1250.2,1297.8 1250.8,1294.8 1250.2,1279.8 1250.8,1277.2 1253.2,1273.8 1261.2,1274.2 1267.2,1276.8 1271.2,1280.8 1272.2,1287.2 1274.8,1290.8 1278.2,1292.2 1283.2,1292.2 1286.8,1291.2 1295.2,1286.2 1315.8,1267.2 1312.2,1235.8 1304.8,1198.2 1293.8,1160.8 1280.8,1127.2 1271.8,1108.2 1232.8,1103.2 1228.2,1102.2 1224.8,1099.8 1224.2,1091.2 1224.8,1090.8 1224.8,1083.2 1225.2,1082.8 1225.8,1067.2 1226.2,1066.8 1227.2,1036.2 1215.8,1021.2 1197.8,1000.8 1169.8,973.2 1155.2,960.8 1138.2,947.8 1096.8,961.8 1092.8,961.2 1090.2,958.2 1075.8,924.8 1064.8,902.8 1032.8,888.8 996.2,876.2 960.8,867.2 935.8,862.8ZM542.2,1301.8 543.2,1300.8 545.2,1300.8 549.2,1302.2 551.2,1304.2 550.8,1306.8 547.8,1309.2 542.8,1309.8 542.2,1309.2ZM861.8,981.8 862.2,981.2 873.2,981.2 873.8,985.2 872.2,988.8 869.2,991.2 867.8,991.8 865.8,991.2 863.2,989.2 861.8,986.2Z"/>
<path fill="#61b747" fill-rule="evenodd" d="M920.8,860.8 918.2,860.8 897.8,877.2 889.8,885.8 886.8,890.8 887.2,895.8 892.2,899.2 895.2,902.8 898.8,910.2 899.8,914.8 899.8,921.8 897.8,923.8 895.2,924.8 862.2,924.2 857.2,922.8 842.8,923.2 840.2,922.2 839.2,921.2 839.2,916.8 840.8,911.8 843.2,907.2 847.2,904.2 851.8,898.8 852.2,893.2 851.2,890.2 845.8,882.2 832.8,869.2 822.2,860.2 818.8,860.2 784.8,865.2 753.2,872.2 730.8,878.8 696.2,891.2 664.8,905.8 656.2,919.8 647.2,932.2 633.8,946.8 628.2,950.8 625.2,952.2 621.2,952.8 619.8,952.2 617.2,949.8 615.8,945.8 616.2,933.8 586.8,955.2 563.2,975.2 540.2,997.8 518.2,1022.8 499.2,1047.8 498.8,1064.2 495.2,1086.8 491.8,1098.2 488.8,1104.2 486.8,1106.8 483.2,1109.2 480.2,1109.2 478.2,1108.2 473.8,1103.2 470.2,1094.8 462.2,1110.2 451.2,1134.8 443.8,1154.2 437.2,1173.8 427.2,1212.2 423.2,1233.8 420.8,1251.8 419.2,1268.8 433.8,1280.8 447.8,1290.2 452.2,1291.8 458.8,1291.2 463.2,1287.8 466.8,1281.8 469.2,1279.2 474.2,1276.8 481.8,1276.2 483.8,1279.2 483.2,1293.8 484.8,1298.8 484.8,1316.8 485.2,1317.2 485.2,1331.8 484.2,1334.2 482.2,1336.2 476.2,1336.2 468.2,1334.2 465.2,1332.8 461.8,1329.8 460.2,1327.2 459.2,1322.2 456.2,1318.8 451.2,1318.2 443.2,1322.2 419.8,1342.2 419.8,1347.8 425.8,1388.8 433.8,1422.8 445.2,1458.2 451.8,1474.8 460.8,1494.8 491.2,1509.2 520.2,1521.2 526.8,1524.8 528.2,1526.8 528.2,1530.8 512.2,1577.2 514.2,1580.8 534.8,1604.8 554.2,1624.8 578.2,1646.2 592.2,1657.2 620.2,1656.8 620.8,1656.2 638.8,1655.8 654.2,1654.2 666.2,1654.8 667.8,1656.2 669.2,1660.8 676.2,1708.2 709.2,1722.2 746.2,1734.2 785.2,1743.2 815.2,1747.8 826.2,1748.8 839.8,1735.2 848.2,1725.2 850.8,1721.2 852.2,1715.8 851.8,1712.8 849.8,1710.2 842.8,1707.8 838.8,1703.2 835.8,1695.2 835.2,1686.8 837.2,1684.8 842.8,1683.2 857.2,1683.8 862.8,1682.2 864.8,1680.8 865.8,1678.8 865.8,1673.2 866.2,1672.8 866.2,1646.2 865.8,1645.8 865.2,1627.2 864.2,1626.8 852.8,1626.8 852.2,1626.2 849.8,1615.8 845.2,1607.2 841.8,1602.2 826.8,1586.2 788.2,1569.2 778.2,1567.2 762.8,1560.2 751.8,1556.2 735.2,1547.8 717.2,1536.8 707.8,1526.2 695.2,1509.2 678.8,1495.2 664.8,1479.2 655.8,1471.2 638.8,1454.2 634.2,1448.8 627.8,1437.2 621.2,1424.2 607.2,1392.2 603.8,1380.2 597.2,1347.8 595.2,1342.2 593.2,1332.8 587.2,1314.8 587.2,1309.8 588.8,1304.2 597.8,1294.8 606.2,1280.2 610.8,1268.8 620.8,1248.2 622.2,1241.8 629.8,1221.2 641.8,1195.8 647.2,1186.2 662.2,1164.8 681.8,1143.8 692.2,1134.8 702.2,1127.2 710.2,1122.2 713.2,1119.2 734.8,1103.8 753.2,1094.8 773.2,1087.2 783.8,1080.8 811.2,1067.8 846.2,1044.2 854.8,1035.8 863.2,1025.2 867.8,1023.2 875.2,1024.2 901.8,1030.2 915.8,1034.8 943.2,1041.8 960.8,1047.8 985.8,1052.8 1007.2,1059.8 1016.2,1065.8 1030.8,1076.8 1041.8,1090.2 1052.2,1105.8 1066.8,1116.8 1078.8,1127.8 1088.2,1134.8 1101.2,1146.2 1118.2,1178.2 1124.2,1192.8 1139.8,1219.2 1142.2,1230.2 1144.8,1237.2 1173.2,1281.2 1182.2,1286.8 1192.8,1289.8 1192.8,1301.8 1193.2,1302.2 1206.2,1302.2 1206.8,1302.8 1242.8,1302.8 1245.2,1302.2 1248.2,1299.8 1249.2,1297.2 1250.2,1291.8 1249.8,1277.8 1251.2,1273.8 1252.8,1272.2 1259.8,1272.2 1269.2,1275.2 1274.8,1280.2 1275.8,1284.2 1278.8,1288.2 1283.8,1288.8 1289.2,1286.8 1294.8,1282.8 1315.2,1263.8 1315.2,1258.8 1312.2,1235.8 1308.2,1213.8 1303.8,1194.2 1293.8,1160.8 1287.8,1144.2 1274.8,1114.2 1226.2,1107.2 1222.2,1105.8 1220.8,1104.2 1220.2,1093.2 1220.8,1092.8 1222.2,1060.8 1222.8,1060.2 1223.2,1030.8 1213.2,1018.2 1197.8,1000.8 1169.8,973.2 1143.2,951.2 1098.2,966.8 1094.2,967.8 1091.2,967.2 1088.8,964.2 1085.8,958.2 1071.2,924.2 1059.2,900.2 1037.8,890.8 1020.8,884.2 985.8,873.2 953.2,865.8ZM542.2,1299.2 542.8,1298.8 547.8,1298.8 551.8,1300.2 555.8,1303.8 555.2,1307.8 550.8,1311.8 547.2,1312.8 542.8,1312.8 542.2,1312.2ZM859.2,981.8 859.8,981.2 875.8,981.2 876.8,982.2 876.8,986.2 874.2,992.8 871.8,995.2 867.8,996.8 863.8,995.2 861.8,993.2 860.2,990.2 859.2,985.8Z"/>
<path fill="#5bb535" fill-rule="evenodd" d="M924.8,861.2 922.8,861.8 903.8,876.8 896.2,884.2 893.8,888.8 893.2,891.2 893.8,893.8 899.8,906.2 901.8,915.8 901.8,921.8 899.2,924.2 894.2,925.8 863.2,925.2 857.2,923.2 842.8,923.8 839.8,922.8 838.2,921.2 838.8,913.8 842.2,905.2 847.8,898.2 848.2,896.8 847.8,890.8 845.8,886.8 840.8,880.2 832.2,871.8 818.8,860.2 784.8,865.2 753.2,872.2 730.8,878.8 696.2,891.2 666.8,904.8 658.8,918.8 647.8,934.2 639.8,943.8 633.8,949.8 627.2,954.8 622.8,956.8 618.2,956.8 614.8,953.8 613.2,949.8 613.2,938.8 614.2,935.2 591.2,951.8 563.2,975.2 540.2,997.8 518.2,1022.8 500.8,1045.8 500.2,1065.2 497.8,1083.2 495.2,1094.2 491.8,1104.2 489.2,1108.8 483.8,1113.8 479.8,1113.8 477.8,1112.8 473.2,1107.8 468.8,1097.8 462.2,1110.2 451.2,1134.8 443.8,1154.2 437.2,1173.8 427.2,1212.2 421.8,1243.8 419.8,1260.8 419.8,1266.2 434.8,1278.8 444.2,1285.2 451.2,1288.2 455.8,1288.2 459.2,1286.8 462.8,1283.2 463.8,1281.2 466.8,1278.8 472.2,1276.2 480.8,1274.8 482.2,1275.2 483.8,1277.2 484.2,1279.2 483.8,1293.8 485.8,1300.2 485.8,1322.2 486.2,1322.8 486.2,1331.2 484.8,1335.8 482.8,1337.8 479.2,1338.2 471.2,1337.2 464.8,1335.2 459.2,1331.8 453.8,1324.8 450.8,1323.8 445.8,1325.2 436.2,1331.8 424.8,1341.8 419.8,1346.8 425.8,1388.8 433.8,1422.8 445.2,1458.2 457.8,1488.2 488.8,1503.2 526.8,1519.2 531.8,1521.8 534.8,1524.8 534.2,1530.8 526.8,1551.8 516.8,1583.8 534.8,1604.8 554.2,1624.8 567.2,1636.8 586.2,1652.8 621.8,1652.2 622.2,1651.8 631.8,1651.8 632.2,1651.2 639.8,1651.2 640.2,1650.8 663.8,1649.8 664.2,1649.2 671.2,1650.2 672.8,1651.8 674.2,1656.2 676.8,1675.8 682.8,1711.2 714.8,1724.2 746.2,1734.2 772.8,1740.8 807.2,1746.8 822.2,1748.2 836.8,1733.8 841.8,1727.8 845.2,1722.2 846.2,1719.8 846.2,1716.8 838.8,1708.2 834.8,1699.8 833.8,1695.2 833.8,1686.2 835.8,1684.2 840.2,1682.8 850.2,1682.8 850.8,1683.2 857.8,1682.8 861.8,1681.2 863.8,1678.2 864.2,1642.8 863.8,1642.2 863.2,1626.8 847.8,1626.2 844.8,1618.8 840.2,1610.2 830.8,1600.8 826.2,1595.2 805.8,1585.2 792.8,1581.2 784.8,1581.2 781.2,1582.8 778.2,1585.2 776.8,1588.2 775.8,1597.8 773.8,1604.2 770.2,1609.2 768.2,1610.2 766.8,1609.8 765.2,1607.2 765.2,1602.8 767.2,1596.2 771.8,1588.2 772.8,1584.8 771.8,1580.2 769.8,1576.8 765.2,1572.2 755.2,1566.8 749.2,1564.8 732.2,1556.2 712.2,1544.2 703.2,1534.8 687.2,1515.2 679.8,1509.8 670.2,1504.2 665.2,1499.2 656.8,1486.2 635.2,1464.8 626.8,1454.8 613.2,1429.8 603.8,1408.2 599.8,1402.2 592.2,1394.8 591.2,1392.2 592.8,1382.8 592.2,1371.8 588.8,1353.2 584.2,1338.2 583.8,1334.2 575.8,1314.2 575.8,1311.2 577.2,1305.2 578.8,1303.2 582.2,1301.2 590.2,1294.2 598.8,1281.2 614.2,1246.2 615.8,1239.8 623.8,1217.8 634.2,1195.2 642.2,1181.2 657.8,1159.2 667.8,1147.8 679.2,1136.2 696.8,1122.2 705.2,1116.8 717.2,1107.2 732.2,1097.2 749.8,1088.8 770.2,1080.8 779.2,1075.2 809.8,1060.8 826.2,1049.8 845.8,1035.2 853.8,1026.8 861.2,1015.2 861.8,1013.2 868.2,1008.8 883.8,1014.8 893.2,1016.8 919.2,1025.8 934.8,1030.2 942.2,1031.8 953.8,1032.8 959.8,1034.8 967.8,1039.2 975.2,1041.8 990.8,1045.2 1006.8,1050.8 1013.2,1053.8 1035.8,1069.8 1041.8,1076.2 1055.2,1093.8 1060.2,1098.8 1063.8,1100.2 1070.8,1105.2 1078.2,1114.2 1087.8,1123.8 1098.2,1132.2 1108.2,1141.8 1116.8,1156.2 1126.2,1175.2 1131.2,1187.8 1137.8,1199.8 1142.8,1204.8 1150.2,1208.2 1155.8,1208.2 1164.8,1205.2 1169.2,1205.2 1170.2,1206.2 1170.2,1207.8 1168.2,1209.8 1157.2,1214.2 1152.8,1218.8 1150.8,1223.8 1150.8,1232.8 1160.2,1250.8 1180.2,1280.8 1192.2,1285.8 1192.8,1300.2 1203.8,1300.2 1204.2,1300.8 1241.2,1300.8 1244.8,1300.2 1246.8,1299.2 1249.2,1293.2 1248.8,1279.2 1249.8,1274.2 1252.2,1270.8 1258.2,1270.2 1268.2,1272.2 1274.2,1275.2 1281.8,1282.2 1284.8,1283.2 1288.2,1282.2 1294.8,1278.2 1315.2,1259.2 1313.2,1242.2 1309.8,1221.2 1301.8,1186.8 1290.8,1152.2 1277.8,1120.8 1241.8,1114.8 1222.2,1112.2 1217.8,1110.8 1215.8,1108.2 1215.2,1103.2 1215.8,1102.8 1215.8,1093.2 1217.2,1078.8 1218.2,1047.8 1218.8,1047.2 1218.8,1025.2 1197.8,1000.8 1175.8,978.8 1158.2,963.2 1149.2,956.2 1123.8,963.8 1092.2,974.2 1088.8,973.2 1086.8,970.8 1083.8,964.8 1067.8,927.2 1052.8,897.2 1020.8,884.2 985.8,873.2 953.2,865.8ZM646.8,1522.2 647.8,1523.2 647.8,1524.8 646.2,1527.2 643.8,1529.8 641.8,1530.8 639.8,1530.8 639.2,1530.2 639.8,1526.8 644.8,1522.2ZM577.8,1397.2 577.8,1399.2 574.8,1402.2 571.2,1404.2 566.2,1405.8 560.8,1405.8 558.8,1404.2 558.8,1401.8 561.2,1399.2 565.2,1397.2 570.8,1395.8 574.8,1395.8ZM542.2,1297.2 542.8,1296.8 548.8,1296.8 556.2,1299.8 561.8,1304.2 561.8,1307.2 560.8,1309.2 554.8,1314.2 549.2,1315.8 543.2,1315.8 542.2,1313.8ZM859.2,981.2 875.8,981.2 879.8,982.2 879.8,989.2 878.2,994.8 875.2,1000.2 869.2,1005.8 867.8,1006.2 864.8,1004.2 861.8,1001.2 857.2,988.2 857.2,982.2Z"/>
<path fill="#6bbd31" fill-rule="evenodd" d="M932.2,862.2 929.8,862.2 906.8,880.2 900.2,887.2 898.8,893.2 903.2,909.8 903.8,921.8 901.2,924.8 897.2,926.2 889.2,926.8 888.8,926.2 877.2,926.2 876.8,925.8 862.8,925.8 857.2,923.8 842.8,924.2 838.2,922.8 837.2,921.2 837.2,915.8 840.2,905.8 844.2,896.8 843.8,889.8 840.8,884.2 833.8,876.2 816.2,860.8 796.2,863.2 772.2,867.8 737.2,876.8 703.8,888.2 686.8,895.2 669.8,903.2 661.2,917.8 644.8,940.8 634.2,952.2 628.2,957.2 623.2,960.2 620.2,961.2 616.8,961.2 615.2,960.8 612.2,957.8 611.2,955.8 610.2,950.2 610.8,940.8 611.8,937.2 601.2,944.2 578.8,961.8 556.2,981.8 529.2,1009.8 518.2,1022.8 503.2,1042.2 502.2,1050.8 501.8,1066.2 499.2,1084.8 495.8,1099.8 493.2,1106.8 489.8,1113.2 485.8,1117.2 481.2,1118.8 478.2,1117.8 472.8,1112.2 469.2,1105.2 467.8,1100.2 466.8,1101.2 451.2,1134.8 443.8,1154.2 437.2,1173.8 429.2,1203.2 422.2,1240.2 419.8,1263.2 430.8,1272.8 442.8,1281.2 449.2,1284.2 454.2,1284.8 457.8,1283.2 463.2,1278.8 473.2,1274.8 482.2,1274.2 484.2,1277.2 484.8,1279.2 484.2,1294.2 486.2,1299.2 486.2,1312.2 486.8,1312.8 486.8,1324.8 487.2,1325.2 486.8,1333.8 484.8,1338.2 481.8,1340.2 471.8,1339.8 460.8,1336.8 450.8,1331.2 444.2,1331.8 437.8,1335.8 420.2,1351.8 421.2,1360.8 426.8,1393.8 433.8,1422.8 443.2,1452.8 453.8,1479.2 489.2,1497.2 534.2,1516.2 540.2,1519.8 542.8,1522.8 542.2,1527.2 533.8,1551.2 529.2,1566.8 525.2,1583.2 522.8,1590.8 542.2,1612.8 554.2,1624.8 579.2,1646.8 617.8,1646.8 618.2,1646.2 635.8,1645.8 636.2,1645.2 643.2,1645.2 657.2,1643.8 674.8,1643.8 677.2,1644.8 678.8,1646.2 679.8,1649.2 683.2,1675.2 691.8,1715.2 714.8,1724.2 739.2,1732.2 763.8,1738.8 796.8,1745.2 816.8,1747.8 824.8,1740.2 837.2,1726.2 839.2,1722.2 839.2,1716.8 834.2,1706.8 831.8,1697.2 831.2,1687.2 831.8,1685.8 833.8,1683.8 840.2,1681.8 854.8,1682.2 859.2,1680.8 861.2,1678.8 861.8,1676.8 861.8,1653.8 862.2,1653.2 861.2,1626.8 849.8,1626.8 841.2,1625.8 837.2,1619.8 823.8,1604.8 805.2,1595.2 798.2,1593.2 791.2,1593.2 788.2,1594.8 782.8,1600.8 775.2,1613.8 759.2,1608.8 758.8,1605.2 760.2,1598.2 760.2,1587.8 759.2,1583.8 757.8,1581.2 753.8,1577.8 735.8,1569.8 721.8,1562.2 706.2,1552.8 693.2,1539.2 681.8,1525.2 674.8,1521.2 667.2,1520.8 663.8,1522.2 644.2,1537.8 643.2,1537.8 631.8,1526.2 647.2,1505.8 648.2,1502.8 648.2,1498.2 645.8,1492.8 625.8,1471.2 616.2,1459.2 609.2,1446.8 594.2,1415.2 590.8,1411.8 585.8,1409.8 574.2,1410.2 564.2,1412.2 561.2,1412.2 555.8,1396.2 556.8,1394.8 572.2,1386.8 578.2,1381.8 580.2,1377.8 580.2,1368.8 577.8,1354.8 575.2,1347.8 572.2,1334.8 566.2,1323.2 563.8,1320.8 559.8,1319.2 546.2,1319.2 542.8,1318.2 542.2,1295.2 542.8,1294.8 549.2,1294.8 558.2,1297.2 563.8,1299.8 569.8,1300.2 576.2,1297.8 580.2,1295.2 582.8,1292.8 592.2,1279.8 606.8,1245.8 610.2,1232.8 614.2,1221.2 622.2,1203.2 632.2,1183.8 644.8,1164.2 652.2,1154.2 661.2,1143.8 676.8,1128.2 704.2,1107.2 728.2,1091.2 748.8,1081.2 766.8,1074.2 775.8,1068.8 793.8,1059.8 806.8,1054.2 825.2,1041.8 837.8,1031.8 848.2,1021.8 852.2,1016.8 855.2,1011.2 856.8,1006.8 856.8,999.8 854.8,989.2 854.8,982.8 855.8,981.8 859.2,981.2 882.8,981.8 883.8,984.2 884.8,994.8 886.8,999.2 889.2,1001.2 919.8,1014.2 938.8,1019.8 944.2,1019.2 949.8,1015.2 959.2,997.2 960.8,995.2 962.2,995.2 975.2,999.8 975.2,1004.2 972.8,1017.8 972.8,1023.8 974.2,1027.8 976.8,1030.2 981.8,1032.8 994.2,1035.8 1015.2,1043.8 1021.2,1047.2 1041.2,1061.2 1047.2,1067.2 1057.8,1080.2 1062.2,1084.2 1067.8,1086.2 1070.8,1085.8 1075.2,1083.2 1087.2,1073.8 1092.2,1070.8 1102.8,1081.2 1101.2,1084.2 1092.8,1095.2 1088.8,1102.8 1089.2,1108.8 1093.2,1114.8 1106.2,1126.2 1117.8,1138.2 1131.8,1163.2 1140.8,1185.2 1144.8,1192.8 1148.8,1196.2 1154.8,1198.2 1164.8,1198.2 1169.8,1197.2 1174.8,1197.8 1177.8,1206.2 1178.8,1211.2 1175.2,1214.2 1168.8,1217.8 1163.2,1222.2 1160.2,1226.8 1159.8,1232.8 1167.8,1249.2 1175.8,1261.8 1188.8,1279.2 1192.2,1281.2 1192.8,1297.8 1206.2,1298.2 1206.8,1298.8 1231.8,1298.8 1232.2,1298.2 1245.2,1297.8 1247.2,1295.8 1248.2,1292.8 1248.8,1273.8 1250.8,1269.8 1252.8,1268.2 1260.8,1268.2 1272.2,1270.8 1284.2,1276.2 1288.2,1276.2 1291.8,1274.8 1297.2,1270.8 1314.2,1254.2 1313.2,1242.2 1310.8,1226.8 1303.8,1194.2 1293.8,1160.8 1281.8,1129.8 1247.2,1122.2 1215.2,1117.8 1212.2,1116.8 1210.2,1114.8 1209.2,1105.8 1209.8,1105.2 1209.8,1094.8 1210.2,1094.2 1211.8,1066.2 1212.2,1065.8 1212.2,1056.2 1212.8,1055.8 1212.8,1017.8 1197.8,1000.8 1175.8,978.8 1156.8,962.2 1120.2,971.8 1090.8,981.8 1086.8,981.2 1083.8,977.8 1079.8,970.2 1060.8,925.8 1048.2,900.8 1043.8,893.2 1020.8,884.2 985.8,873.2 960.8,867.2Z"/>
<path fill="#8dc63f" fill-rule="evenodd" d="M944.8,864.2 942.2,864.2 912.2,886.8 907.2,891.8 905.8,896.2 905.8,901.8 906.8,908.2 906.8,921.8 903.2,925.8 895.8,927.8 864.2,927.2 857.2,924.2 842.8,924.8 837.8,923.2 836.2,921.8 836.2,915.8 841.2,897.8 840.8,889.8 837.8,884.2 828.8,874.8 813.2,861.2 810.2,861.2 772.2,867.8 737.2,876.8 703.8,888.2 671.8,902.2 669.8,906.8 659.8,923.2 646.8,941.2 632.2,957.2 627.2,961.2 621.2,964.8 615.2,965.8 612.8,964.8 609.8,961.8 607.8,955.8 607.8,946.2 609.2,938.8 584.2,957.2 556.2,981.8 529.2,1009.8 504.2,1040.8 504.2,1055.2 503.8,1055.8 503.8,1062.8 502.2,1076.8 499.2,1094.2 495.2,1108.2 490.2,1117.8 485.2,1122.2 481.2,1123.2 477.2,1121.8 472.2,1116.8 468.8,1110.2 466.2,1102.2 455.8,1124.2 443.8,1154.2 432.2,1191.2 424.2,1227.8 420.8,1251.8 420.2,1260.8 436.8,1274.2 441.2,1277.2 449.2,1280.8 454.2,1280.8 463.2,1276.8 472.8,1273.8 482.2,1273.2 484.8,1276.8 485.2,1279.2 484.8,1294.2 487.8,1300.8 488.2,1332.2 487.2,1337.2 485.8,1340.2 483.8,1342.2 478.8,1343.2 472.8,1343.2 472.2,1342.8 462.2,1342.2 452.2,1339.8 445.8,1340.2 440.2,1343.8 421.8,1360.8 423.2,1374.8 426.8,1393.8 435.8,1429.8 447.2,1463.2 448.8,1464.8 466.8,1476.2 484.8,1485.8 506.2,1494.8 533.2,1503.8 541.2,1507.8 546.8,1511.8 552.8,1517.8 553.2,1521.8 545.8,1540.2 538.8,1564.8 535.2,1587.8 534.8,1599.2 534.2,1599.8 534.8,1604.8 554.2,1624.8 566.2,1635.8 591.8,1638.2 615.2,1638.2 615.8,1637.8 633.2,1636.8 659.8,1632.8 672.2,1632.8 683.8,1635.8 686.2,1637.8 687.2,1640.2 689.2,1662.8 694.2,1686.2 698.2,1698.8 707.2,1721.2 714.8,1724.2 746.2,1734.2 763.8,1738.8 790.8,1744.2 806.8,1746.2 826.2,1727.2 829.8,1722.8 831.2,1718.2 831.2,1715.8 828.8,1703.8 828.2,1689.2 828.8,1685.8 831.2,1683.2 834.2,1681.8 838.8,1680.8 853.2,1681.2 856.8,1680.2 858.8,1678.2 859.2,1663.2 859.8,1662.8 859.8,1641.8 859.2,1641.2 858.8,1627.2 858.2,1626.8 849.8,1626.8 849.2,1626.2 842.2,1626.2 828.2,1624.8 822.2,1617.8 802.2,1606.8 792.8,1603.2 789.2,1603.2 784.8,1605.2 782.8,1607.8 779.8,1615.2 755.2,1607.2 754.2,1605.8 756.2,1600.8 756.2,1596.2 754.8,1592.8 752.8,1590.8 749.2,1588.8 736.8,1584.2 720.8,1576.2 699.8,1563.8 687.2,1551.8 672.2,1535.2 664.8,1533.2 657.2,1533.8 652.8,1535.8 646.8,1541.2 628.2,1522.8 633.2,1518.2 635.8,1512.8 635.8,1508.2 633.2,1501.8 629.2,1496.2 613.8,1478.8 604.8,1466.8 590.8,1440.2 583.2,1423.2 580.2,1418.8 578.2,1416.8 574.2,1414.8 568.2,1414.8 563.8,1416.8 562.2,1415.8 554.2,1391.2 562.2,1388.2 565.2,1385.2 567.2,1380.2 567.2,1375.2 564.2,1357.2 561.8,1350.2 558.2,1336.2 554.8,1330.8 550.8,1326.8 542.8,1322.8 542.8,1314.2 542.2,1313.8 542.2,1294.8 543.2,1292.8 551.2,1292.8 560.8,1294.8 569.2,1294.2 572.2,1292.8 583.8,1280.2 589.8,1265.8 594.8,1255.8 599.2,1243.8 603.8,1224.8 606.2,1217.8 622.8,1184.8 633.2,1167.2 645.2,1150.2 660.2,1132.8 669.8,1123.2 680.2,1114.2 693.8,1105.2 697.8,1101.8 723.2,1085.2 747.8,1073.2 761.8,1067.8 777.8,1058.8 805.8,1045.8 823.8,1033.2 837.8,1020.8 843.2,1014.8 848.8,1007.2 851.8,998.8 851.8,986.8 852.8,981.8 875.8,981.2 876.2,981.8 891.2,982.2 895.2,985.8 917.8,998.2 930.2,1003.8 940.2,1006.8 944.8,1006.8 950.2,1004.2 953.2,1000.8 955.2,994.8 957.2,993.8 980.2,1001.8 978.2,1007.8 978.2,1012.8 979.8,1016.2 983.2,1019.8 987.8,1021.8 1001.8,1025.2 1018.8,1032.2 1027.2,1036.8 1050.8,1052.8 1061.8,1065.8 1068.2,1072.2 1072.2,1074.2 1075.8,1074.8 1078.8,1074.2 1083.2,1072.2 1087.8,1067.8 1088.8,1067.8 1106.2,1084.8 1101.8,1089.8 1099.8,1093.2 1099.2,1099.8 1100.2,1102.8 1102.2,1105.8 1125.8,1128.8 1131.2,1136.8 1142.2,1156.2 1155.2,1189.8 1159.2,1193.2 1162.2,1194.2 1166.8,1194.2 1171.2,1192.8 1173.2,1193.2 1179.8,1212.8 1180.2,1216.2 1174.2,1218.8 1170.2,1222.2 1168.8,1225.2 1168.2,1229.2 1176.8,1247.2 1185.2,1259.8 1190.8,1266.2 1192.2,1281.2 1192.8,1295.2 1203.8,1295.8 1204.2,1296.2 1243.8,1295.8 1246.2,1293.8 1247.2,1291.2 1246.8,1278.2 1247.8,1271.8 1249.2,1268.2 1251.8,1265.8 1266.2,1265.2 1279.8,1267.8 1286.8,1267.8 1293.8,1263.2 1313.2,1243.8 1309.8,1221.2 1303.8,1194.2 1295.8,1166.8 1288.2,1145.8 1287.2,1144.8 1272.2,1138.8 1256.2,1133.2 1242.8,1129.8 1229.2,1127.2 1206.8,1125.2 1203.8,1124.2 1201.2,1120.8 1199.2,1113.8 1198.2,1104.2 1203.8,1060.2 1204.2,1031.8 1201.8,1005.8 1197.8,1000.8 1169.8,973.2 1149.8,974.8 1128.2,978.2 1114.8,981.8 1102.8,985.8 1086.8,992.2 1083.8,992.2 1076.2,985.2 1071.8,978.8 1066.8,967.2 1057.8,940.8 1051.2,925.8 1041.8,907.8 1028.2,887.2 1001.2,877.8 985.8,873.2 960.8,867.2Z"/>
<path fill="#b6d538" fill-rule="evenodd" d="M702.2,1630.2 700.8,1637.8 700.2,1648.8 698.8,1657.8 698.8,1665.2 700.2,1671.2 712.2,1693.2 718.2,1700.8 727.2,1707.8 737.8,1712.2 749.2,1714.2 756.2,1714.2 768.2,1712.2 779.2,1708.2 787.8,1703.8 793.2,1699.8 801.2,1691.8 807.2,1687.8 810.2,1686.8 818.8,1686.8 820.2,1686.2 824.2,1682.8 831.8,1679.8 838.8,1678.8 853.2,1679.2 855.8,1677.2 856.8,1646.8 856.2,1646.2 855.8,1635.8 853.8,1630.2 850.2,1630.8 827.2,1638.8 817.8,1639.2 814.2,1638.2 808.8,1634.8 795.8,1621.8 791.2,1618.2 791.8,1617.8 794.8,1618.2 794.2,1611.2 791.8,1607.8 787.8,1607.2 784.8,1609.8 784.2,1611.2 784.8,1615.8 784.2,1616.2 771.2,1612.8 749.8,1604.8 752.2,1602.8 753.8,1599.2 752.8,1595.8 750.8,1594.2 745.8,1594.8 739.8,1600.8 743.8,1602.2 743.2,1602.8 735.8,1603.2 728.2,1604.8 720.2,1607.8 713.8,1611.8 706.8,1619.2ZM790.8,1617.8 791.2,1617.2 791.8,1617.8 791.2,1618.2ZM628.2,1507.8 624.2,1507.8 620.2,1509.8 617.8,1509.8 614.8,1506.8 620.8,1513.8 620.2,1514.2 610.2,1510.2 603.2,1508.8 590.8,1508.8 584.8,1510.2 579.8,1512.8 576.2,1515.2 567.8,1524.2 559.2,1538.2 554.8,1544.2 552.2,1549.2 550.8,1554.8 551.2,1580.8 554.2,1593.2 557.8,1600.2 563.2,1607.2 569.8,1612.8 578.8,1617.8 585.8,1620.2 594.8,1622.2 605.2,1622.8 605.8,1623.2 617.2,1622.8 629.2,1619.2 638.2,1614.8 644.8,1610.2 652.2,1602.8 655.8,1597.8 659.8,1589.2 661.8,1581.2 662.2,1573.2 661.2,1564.8 659.2,1557.2 655.8,1549.8 656.2,1548.8 666.8,1557.8 683.2,1569.8 670.8,1557.2 664.8,1550.2 664.2,1543.8 661.8,1538.8 658.8,1537.2 656.2,1537.2 652.8,1539.2 650.8,1543.2 649.8,1543.8 626.2,1520.8 625.8,1519.2 630.2,1517.2 632.2,1514.2 631.8,1510.2ZM620.2,1514.2 620.8,1513.8 621.2,1514.2 620.8,1514.8ZM1193.8,1140.8 1184.8,1144.8 1177.2,1151.8 1171.2,1163.2 1168.8,1174.8 1168.8,1181.2 1168.2,1181.8 1164.2,1172.8 1164.8,1177.2 1159.8,1183.2 1159.2,1187.8 1160.2,1189.8 1162.2,1191.2 1166.8,1191.2 1170.8,1188.2 1171.8,1189.2 1175.8,1200.2 1181.8,1220.2 1176.8,1220.8 1172.8,1223.8 1172.2,1227.8 1173.2,1229.8 1176.8,1232.2 1181.2,1233.2 1184.2,1236.2 1186.2,1241.2 1183.2,1229.2 1183.8,1228.2 1188.8,1234.2 1199.8,1244.8 1204.8,1252.8 1205.2,1254.8 1204.8,1263.8 1202.8,1270.8 1197.2,1284.8 1196.2,1290.8 1200.8,1292.2 1209.2,1293.2 1242.2,1292.8 1243.8,1292.2 1245.8,1289.2 1245.2,1285.2 1245.8,1269.8 1248.2,1262.2 1252.8,1256.8 1253.2,1255.2 1253.2,1246.8 1254.2,1243.8 1257.2,1239.2 1266.2,1230.2 1271.2,1223.2 1275.8,1214.2 1278.2,1207.2 1280.8,1193.2 1280.8,1186.8 1278.8,1175.2 1274.8,1165.8 1269.8,1158.8 1265.2,1154.2 1255.8,1147.8 1237.8,1138.2 1232.2,1136.8 1222.8,1136.8 1218.8,1137.8 1202.2,1138.8ZM1152.2,991.2 1146.8,990.2 1133.8,990.2 1133.2,989.8 1119.8,989.8 1114.2,991.2 1094.2,1003.2 1083.2,1011.8 1077.2,1019.2 1074.2,1026.8 1073.2,1033.8 1073.8,1042.2 1075.2,1048.8 1079.2,1058.8 1078.8,1059.2 1069.2,1051.2 1071.8,1053.8 1073.8,1057.2 1072.2,1063.8 1072.2,1065.8 1073.8,1069.2 1076.2,1070.8 1079.8,1070.8 1082.8,1068.8 1085.2,1064.2 1109.2,1088.2 1103.8,1091.8 1102.8,1093.8 1102.8,1096.8 1103.8,1098.8 1106.8,1100.8 1116.8,1099.8 1125.8,1108.2 1114.8,1095.2 1115.2,1094.2 1125.2,1098.2 1136.2,1100.2 1147.2,1099.8 1157.8,1096.8 1166.8,1091.8 1176.2,1082.8 1181.2,1075.2 1184.8,1068.2 1188.2,1057.8 1188.8,1054.8 1188.2,1034.8 1186.2,1025.2 1182.2,1014.8 1178.2,1008.2 1170.2,999.8 1160.2,993.8ZM1114.2,1094.2 1114.8,1093.8 1115.2,1094.2 1114.8,1094.8ZM1078.8,1059.2 1079.2,1058.8 1079.8,1059.2 1079.2,1059.8ZM1021.2,908.8 1011.8,901.8 1004.8,898.2 997.8,895.8 990.8,894.2 980.8,893.8 980.2,893.2 966.8,893.8 958.8,894.8 947.8,897.2 937.2,901.8 932.2,905.2 928.8,908.8 924.8,914.8 920.8,918.8 915.8,920.8 910.8,925.8 903.2,928.8 900.2,929.2 863.8,928.8 860.8,926.2 857.2,924.8 844.8,924.8 844.2,925.2 839.8,924.8 837.2,923.8 835.2,921.8 835.2,915.2 838.8,900.8 838.8,892.2 835.2,885.2 826.2,875.8 810.2,861.8 796.2,863.2 763.2,869.8 737.2,876.8 703.8,888.2 674.8,900.8 664.8,918.8 648.8,941.8 639.8,952.8 627.2,964.8 621.8,968.2 617.8,969.8 610.8,969.2 607.2,965.8 605.8,962.8 604.8,957.2 604.8,951.8 606.2,940.8 578.8,961.8 556.2,981.8 529.2,1009.8 506.2,1038.2 505.8,1060.2 502.2,1089.2 497.8,1108.2 494.8,1115.8 491.8,1120.8 487.8,1125.2 484.2,1127.2 480.8,1127.8 476.8,1126.2 473.8,1123.8 469.8,1118.2 465.8,1109.2 464.8,1105.2 455.8,1124.2 443.8,1154.2 432.2,1191.2 425.2,1222.2 420.2,1257.2 439.2,1272.8 448.2,1277.2 451.8,1277.8 456.2,1277.2 474.8,1272.2 482.2,1272.2 484.2,1274.2 485.8,1279.8 485.2,1294.2 489.2,1300.2 489.2,1318.8 490.2,1327.8 489.2,1339.8 488.2,1343.2 485.8,1347.8 479.2,1353.2 476.2,1358.2 468.8,1365.8 464.8,1371.2 459.2,1383.8 457.2,1391.2 454.8,1406.2 454.2,1421.2 456.2,1433.2 458.2,1439.2 462.2,1447.2 467.8,1454.8 479.2,1465.2 489.2,1471.8 495.2,1474.8 506.2,1477.8 521.2,1477.8 530.2,1476.2 537.8,1473.8 543.8,1470.8 548.2,1467.8 554.2,1462.2 559.8,1454.8 563.2,1447.2 565.8,1438.2 566.8,1427.8 567.2,1427.2 570.2,1434.2 569.8,1430.8 575.2,1425.2 575.8,1420.8 574.8,1418.8 572.2,1417.2 568.2,1417.8 564.8,1421.2 554.8,1393.2 553.2,1386.8 553.8,1386.2 554.2,1386.8 560.2,1386.2 562.2,1384.2 562.8,1380.8 561.8,1378.8 559.2,1376.8 552.2,1375.8 550.8,1374.2 547.8,1359.2 550.2,1373.8 551.8,1378.2 551.2,1380.2 548.8,1376.8 534.2,1362.2 530.8,1356.2 529.8,1351.8 531.2,1341.2 536.8,1327.2 539.2,1318.8 540.8,1309.8 540.8,1301.2 542.2,1300.8 542.8,1290.8 547.2,1289.8 558.8,1289.8 563.2,1288.8 568.2,1285.8 575.8,1278.2 581.2,1264.8 585.8,1256.2 591.2,1240.2 592.8,1228.8 591.8,1222.8 589.8,1218.2 587.8,1216.2 585.8,1215.8 576.8,1216.2 569.8,1215.2 564.8,1213.8 558.8,1210.8 556.8,1208.8 560.2,1199.8 566.2,1200.2 572.8,1202.2 578.8,1205.2 588.8,1212.8 593.8,1211.8 597.8,1209.2 602.8,1204.2 605.8,1199.8 620.2,1171.8 633.2,1151.8 645.2,1136.2 669.2,1108.8 687.8,1098.2 692.8,1094.2 718.8,1078.2 739.8,1067.8 761.8,1058.2 785.2,1044.2 796.2,1040.8 809.2,1033.8 822.8,1023.2 837.2,1007.8 844.2,997.2 846.8,990.8 848.2,983.2 849.2,981.8 858.8,981.8 859.2,981.2 864.2,981.2 864.8,979.8 877.8,979.2 886.2,977.2 907.2,969.8 918.2,969.2 925.2,972.8 936.8,984.2 944.2,990.2 942.2,990.8 936.2,989.2 939.2,991.8 940.2,997.8 942.8,1001.2 945.8,1002.2 948.2,1001.8 951.2,998.2 951.8,996.2 951.2,992.8 951.8,992.2 964.2,995.8 984.2,1003.2 981.2,1007.8 981.2,1011.8 984.2,1014.8 989.8,1014.2 995.2,1009.2 998.8,1009.2 990.8,1005.8 991.2,1005.2 998.8,1005.2 1006.8,1003.8 1015.2,1000.8 1020.8,997.8 1026.8,993.2 1030.8,989.2 1035.8,982.2 1039.2,974.8 1041.2,967.8 1042.8,953.8 1042.2,943.8 1038.2,931.2 1029.2,917.2ZM551.2,1380.2 551.8,1379.8 552.2,1380.2 551.8,1380.8ZM639.8,1073.8 641.2,1073.8 645.8,1076.8 650.8,1082.8 652.2,1085.8 652.2,1089.2 650.8,1090.8 647.2,1090.8 640.8,1086.8 635.8,1080.8 635.2,1078.2ZM768.2,998.2 771.2,1000.8 772.2,1002.8 772.8,1007.8 771.2,1009.2 770.2,1009.2 766.8,1004.8 766.2,1000.8 766.8,999.2Z"/>
<path fill="#e2c727" fill-rule="evenodd" d="M775.2,1675.2 773.2,1676.2 769.2,1680.8 768.8,1682.2 769.2,1689.2 770.8,1691.8 774.8,1694.8 776.2,1695.2 783.2,1694.8 785.8,1693.2 788.8,1689.2 789.2,1687.8 788.8,1681.2 785.2,1676.8 780.2,1674.8ZM712.8,1654.2 708.8,1655.8 705.8,1658.8 704.2,1664.8 705.8,1669.2 708.8,1672.2 712.2,1673.8 716.2,1673.8 719.8,1672.2 722.2,1669.8 723.8,1666.8 723.8,1661.8 722.8,1659.2 720.2,1656.2 717.2,1654.8ZM610.8,1593.8 607.2,1595.8 605.2,1598.2 604.2,1600.8 604.2,1606.2 605.8,1609.8 609.2,1612.8 611.8,1613.8 617.2,1613.8 620.2,1612.2 623.2,1609.2 624.8,1605.8 624.8,1601.8 622.2,1596.8 619.8,1594.8 615.8,1593.2ZM563.8,1546.2 559.8,1548.2 557.8,1550.8 556.8,1553.2 556.8,1558.2 557.8,1560.8 561.2,1564.2 563.8,1565.2 568.8,1565.2 572.8,1563.2 574.8,1560.8 576.2,1555.8 575.8,1552.8 573.8,1549.2 569.2,1546.2ZM655.2,1541.2 654.8,1543.8 655.2,1544.8 657.2,1545.2 658.8,1543.8 658.8,1541.8 657.8,1540.8ZM626.8,1512.8 626.8,1514.2 627.8,1514.2 628.2,1513.2ZM477.2,1377.2 474.2,1378.8 469.8,1383.8 466.8,1393.2 466.8,1400.2 466.2,1400.8 466.8,1411.2 468.2,1419.8 471.2,1429.2 477.8,1441.8 489.8,1455.2 493.8,1462.2 497.2,1465.8 501.2,1467.8 505.2,1468.2 509.2,1467.2 511.8,1465.8 514.2,1462.8 515.8,1459.2 515.8,1454.2 513.2,1448.2 509.2,1441.8 507.8,1429.8 505.2,1417.8 496.8,1388.8 494.2,1384.2 488.2,1378.8 482.2,1376.8ZM1175.8,1225.2 1175.8,1226.8 1177.2,1227.8 1179.8,1226.8 1179.8,1225.2 1178.8,1224.2 1176.8,1224.2ZM1249.8,1205.8 1245.8,1207.2 1242.8,1210.2 1241.2,1213.2 1241.2,1218.8 1242.2,1221.2 1245.2,1224.8 1248.2,1226.2 1252.2,1226.8 1256.8,1225.2 1259.8,1222.8 1261.8,1218.8 1261.8,1214.2 1260.8,1211.2 1258.2,1208.2 1254.8,1206.2ZM1164.2,1185.2 1163.2,1187.2 1165.8,1187.8 1166.2,1186.2ZM1228.2,1142.2 1224.8,1143.8 1221.8,1146.8 1220.8,1148.8 1220.2,1152.8 1221.2,1156.2 1224.2,1159.8 1227.2,1161.2 1231.2,1161.8 1234.8,1160.8 1238.2,1157.8 1239.8,1154.8 1239.8,1149.2 1238.2,1146.2 1235.8,1143.8 1231.8,1142.2ZM1107.2,1093.2 1106.2,1094.2 1106.2,1095.8 1108.8,1096.2 1109.8,1094.2 1108.8,1093.2ZM1079.2,1063.8 1077.2,1064.2 1076.8,1065.2 1077.2,1067.2 1079.2,1067.2 1080.2,1066.2 1080.2,1064.8ZM1166.8,1042.8 1163.2,1044.2 1160.8,1046.8 1159.2,1049.8 1158.8,1053.8 1160.2,1058.2 1163.8,1061.8 1168.2,1063.2 1170.8,1063.2 1175.8,1061.2 1177.8,1059.2 1179.8,1054.8 1179.8,1051.2 1178.2,1047.2 1175.2,1044.2 1171.8,1042.8ZM985.8,1007.8 984.8,1008.8 984.8,1010.2 986.8,1010.8 987.2,1008.2ZM1118.2,995.8 1115.2,997.2 1112.8,999.8 1111.2,1003.2 1111.2,1007.2 1113.2,1011.2 1116.2,1013.8 1118.8,1014.8 1123.2,1014.8 1126.8,1013.2 1129.2,1010.8 1130.8,1007.2 1130.8,1003.2 1129.2,999.8 1126.2,996.8 1123.8,995.8ZM945.8,995.2 944.8,996.8 945.8,998.2 947.2,998.2 947.8,995.8ZM942.8,914.2 941.8,917.8 942.8,924.8 945.2,929.2 948.2,932.2 952.8,934.8 966.2,936.8 985.2,942.2 1004.2,945.2 1007.8,946.8 1015.2,953.2 1019.2,954.8 1023.8,954.8 1028.2,952.8 1030.8,950.2 1032.2,947.2 1032.8,942.8 1031.8,938.8 1030.2,936.2 1026.2,932.2 1022.8,930.2 1013.2,920.2 1003.8,913.2 991.8,907.8 982.8,905.2 976.2,904.2 961.2,904.2 953.8,905.8 948.2,908.2 944.2,911.8ZM829.8,882.8 806.2,861.8 784.8,865.2 763.2,869.8 737.2,876.8 717.2,883.2 696.2,891.2 678.2,899.2 664.2,923.2 648.8,945.2 639.8,956.2 629.2,966.8 623.8,970.8 615.8,974.2 610.2,974.2 607.2,972.8 605.2,970.8 603.2,967.2 601.8,960.2 602.2,949.2 603.8,942.8 584.2,957.2 563.2,975.2 533.8,1004.8 518.2,1022.8 508.2,1035.8 507.8,1060.8 505.2,1083.8 503.2,1095.8 498.2,1114.2 494.8,1121.8 491.2,1126.8 488.2,1129.8 483.2,1132.2 479.8,1132.2 476.2,1130.8 471.8,1126.8 468.2,1121.8 465.2,1115.2 463.2,1108.2 448.2,1142.2 435.8,1178.8 427.2,1212.2 423.2,1233.8 420.8,1253.8 439.8,1269.2 445.2,1272.8 449.2,1274.2 457.8,1274.8 469.2,1272.8 473.8,1271.2 478.8,1271.2 479.2,1270.8 482.8,1271.2 484.2,1272.8 485.8,1276.2 485.8,1293.8 486.8,1296.2 488.8,1298.2 491.2,1299.2 497.2,1299.2 497.8,1299.8 540.8,1299.2 542.2,1298.8 542.8,1287.8 543.2,1287.2 554.2,1284.8 558.8,1282.8 565.2,1277.8 570.8,1265.2 577.2,1252.8 581.2,1239.2 581.8,1232.8 580.2,1228.2 577.2,1224.8 555.8,1213.2 560.8,1196.8 561.8,1195.8 583.2,1199.8 588.8,1199.8 593.8,1197.8 598.2,1192.8 610.2,1169.8 624.8,1146.8 633.2,1135.2 649.2,1115.8 651.2,1110.8 651.2,1106.8 649.8,1103.2 640.8,1093.8 631.8,1082.8 631.8,1081.8 643.8,1070.2 646.2,1071.8 652.2,1076.8 665.8,1090.2 670.8,1092.2 674.8,1092.2 678.2,1091.2 706.8,1075.2 714.2,1070.2 735.2,1059.8 756.8,1050.2 765.2,1044.8 769.8,1040.8 772.2,1037.2 773.8,1031.8 771.2,1025.2 766.8,1018.8 763.2,1011.2 760.8,1001.8 760.8,999.8 761.8,998.8 773.8,995.2 775.2,996.8 777.2,1000.8 779.8,1007.8 781.2,1014.2 781.8,1020.8 783.2,1025.8 784.2,1027.2 787.8,1029.2 794.8,1029.8 799.2,1028.2 807.2,1023.8 821.8,1011.2 834.8,994.8 841.8,982.2 862.2,981.2 862.8,961.2 863.2,960.8 862.8,931.2 861.2,927.8 857.2,925.2 854.8,924.8 853.8,925.2 839.8,925.2 834.8,922.8 834.2,914.2 836.8,903.8 836.8,894.2 834.2,888.2Z"/>
<path fill="#e97b25" fill-rule="evenodd" d="M778.2,1682.2 776.8,1683.2 775.8,1685.2 775.8,1687.2 778.2,1689.8 781.2,1689.8 783.2,1688.2 783.8,1685.2 782.8,1683.2 781.2,1682.2ZM711.2,1661.2 709.8,1662.8 709.2,1664.8 710.8,1667.2 713.8,1667.8 715.8,1666.2 716.2,1663.8 714.2,1661.2ZM614.2,1600.8 611.2,1602.8 610.8,1606.2 611.8,1607.8 613.8,1608.8 615.8,1608.8 618.2,1606.8 618.8,1604.2 617.2,1601.8ZM563.2,1552.2 561.8,1553.8 561.8,1556.8 562.2,1557.8 565.8,1558.8 567.8,1557.2 568.2,1554.2 566.2,1552.2ZM500.8,1451.8 498.2,1454.8 498.2,1458.2 499.2,1460.8 500.8,1462.2 503.2,1463.2 505.8,1463.2 507.8,1462.2 509.8,1459.2 509.8,1456.8 508.8,1454.2 505.8,1451.8 503.8,1451.2ZM479.8,1383.2 476.2,1385.2 474.8,1387.2 473.2,1391.2 473.2,1394.8 475.2,1400.2 478.8,1404.2 482.8,1406.2 485.2,1406.2 487.8,1403.8 490.2,1398.8 490.8,1390.8 489.2,1387.2 486.2,1384.2 483.8,1383.2ZM1250.8,1213.2 1249.2,1214.2 1248.2,1216.2 1248.8,1218.8 1250.8,1220.8 1253.8,1220.8 1255.8,1219.2 1256.2,1215.8 1253.8,1213.2ZM1229.2,1147.2 1227.2,1149.2 1227.2,1151.8 1229.2,1153.8 1231.8,1153.8 1233.8,1151.8 1233.8,1149.2 1231.8,1147.2ZM1169.2,1049.2 1166.8,1051.8 1166.8,1054.8 1168.8,1056.8 1170.8,1057.2 1172.2,1056.8 1174.2,1054.8 1174.2,1051.8 1172.8,1049.8ZM1120.8,1000.2 1118.2,1001.2 1117.2,1002.8 1117.8,1005.8 1120.2,1007.2 1122.2,1006.8 1124.2,1003.8 1123.8,1002.2ZM1018.8,938.2 1016.8,940.8 1016.8,944.2 1017.8,946.2 1019.2,947.8 1021.8,948.8 1025.8,947.8 1027.8,944.8 1026.8,940.2 1023.2,937.8ZM947.8,919.8 947.8,922.2 949.2,925.8 952.2,928.2 954.8,929.2 961.2,928.8 966.8,925.8 969.2,922.8 969.2,919.8 967.8,917.2 963.2,913.8 960.2,912.8 954.2,912.8 951.2,914.2 948.8,916.8ZM831.2,888.8 822.2,879.8 805.8,866.2 802.8,862.8 796.2,863.2 772.2,867.8 753.2,872.2 730.8,878.8 703.8,888.2 682.2,897.2 668.2,921.2 648.8,949.2 639.8,960.2 630.2,969.8 621.8,975.8 613.8,978.8 608.2,978.8 603.8,976.2 601.2,973.2 598.8,965.8 598.8,953.2 600.2,945.2 586.8,955.2 568.2,970.8 540.2,997.8 523.2,1016.8 510.8,1032.2 510.2,1058.2 509.8,1058.8 508.8,1074.8 505.8,1095.8 502.8,1109.2 500.2,1116.8 496.8,1124.2 492.8,1130.2 488.2,1134.8 484.2,1136.8 478.8,1136.8 475.2,1135.2 470.2,1130.8 466.8,1125.8 463.2,1118.2 461.8,1112.8 461.2,1112.8 448.2,1142.2 435.8,1178.8 427.2,1212.2 423.2,1233.8 421.2,1249.2 423.8,1250.2 441.2,1265.8 445.2,1268.8 450.2,1271.2 454.2,1272.2 464.2,1272.2 476.2,1269.8 482.8,1270.2 484.8,1272.2 486.2,1275.8 486.2,1290.8 485.8,1291.2 487.2,1295.8 490.2,1297.8 494.8,1298.2 540.2,1298.2 542.2,1297.8 543.2,1282.8 552.8,1277.2 554.2,1275.2 566.2,1251.2 569.8,1238.8 569.8,1231.2 566.8,1224.2 562.8,1220.2 554.8,1216.8 555.8,1211.8 561.8,1193.8 562.8,1192.2 568.8,1194.2 577.2,1193.8 585.8,1189.8 590.2,1184.2 597.8,1169.2 610.2,1148.2 619.8,1134.2 634.2,1116.2 638.2,1109.8 639.2,1104.8 636.8,1095.2 633.8,1089.8 629.2,1084.8 641.2,1072.2 646.2,1067.8 653.2,1073.8 663.2,1078.8 667.8,1080.2 674.8,1079.8 699.8,1067.2 709.2,1061.2 752.8,1040.2 759.2,1034.8 761.8,1029.2 761.8,1023.2 759.8,1014.8 759.2,1008.8 757.2,1001.8 757.8,1000.2 774.2,994.8 777.8,994.2 781.2,1002.2 787.8,1012.2 791.8,1015.8 796.2,1016.2 800.8,1014.8 805.2,1012.2 818.8,999.2 829.8,983.8 840.8,982.2 861.2,981.2 861.2,974.8 861.8,974.2 861.2,930.2 860.8,928.8 857.2,925.8 854.8,925.2 853.2,925.8 839.2,925.8 835.2,924.2 833.2,922.2 832.8,919.2 833.2,918.8 833.2,912.8 834.8,907.2 835.2,899.8 834.2,894.2Z"/>
<path fill="#e0452a" fill-rule="evenodd" d="M482.2,1387.8 479.2,1389.2 478.2,1392.2 479.8,1395.2 483.2,1396.2 485.8,1394.2 486.2,1391.8 485.2,1389.2ZM954.8,918.2 952.8,920.2 952.8,922.2 954.8,924.2 957.8,924.2 959.2,922.8 959.8,920.8 958.2,918.8ZM859.2,928.2 857.8,926.8 854.8,925.8 853.8,926.2 838.8,926.2 834.2,924.8 832.2,922.8 831.8,913.2 833.2,907.2 833.2,899.8 830.8,893.2 822.2,884.2 799.8,866.2 797.2,863.2 763.2,869.8 737.2,876.8 711.8,885.2 686.8,895.2 665.8,930.2 646.8,956.8 642.2,962.2 631.8,972.8 622.8,979.2 617.8,981.8 613.2,983.2 607.8,983.8 602.2,981.8 598.8,978.2 596.2,973.8 594.8,967.8 594.8,956.8 596.2,948.2 575.8,964.2 556.2,981.8 533.8,1004.8 513.8,1028.8 513.8,1046.2 513.2,1046.8 512.8,1062.8 508.8,1096.2 506.8,1106.2 502.8,1118.8 498.8,1127.2 493.2,1135.2 489.8,1138.8 484.8,1141.8 479.8,1142.2 475.2,1140.8 472.2,1138.8 466.2,1132.2 463.2,1127.2 459.2,1116.8 445.8,1148.8 435.8,1178.8 427.2,1212.2 422.2,1242.2 424.8,1243.2 447.2,1265.2 454.2,1269.2 458.2,1270.2 467.2,1270.2 472.8,1268.8 482.8,1268.8 485.2,1271.2 486.8,1275.2 487.2,1279.8 486.8,1293.2 489.2,1296.2 496.8,1297.2 542.2,1297.2 544.2,1267.2 553.8,1249.8 556.8,1237.8 561.8,1232.2 563.8,1228.2 563.2,1224.8 561.2,1222.2 558.2,1220.8 553.8,1220.2 555.8,1211.8 563.2,1189.8 564.2,1189.2 568.8,1191.8 573.2,1191.8 576.8,1189.2 578.2,1185.8 578.2,1180.8 579.2,1177.2 587.2,1161.8 599.8,1140.8 611.2,1123.8 623.2,1108.2 632.2,1100.8 633.2,1098.8 632.8,1092.8 630.2,1089.8 626.8,1087.2 648.8,1065.2 653.2,1070.8 656.2,1072.2 662.8,1071.8 669.2,1067.8 672.8,1066.8 686.8,1059.8 693.2,1057.2 701.2,1052.2 747.2,1029.2 752.2,1024.2 755.8,1016.2 756.2,1007.8 754.2,1002.8 754.8,1001.2 767.8,996.8 780.8,993.2 781.8,994.8 782.8,999.2 785.8,1003.2 788.8,1004.8 793.8,1004.8 801.2,1000.2 816.2,985.2 835.2,982.8 860.2,981.2 860.8,943.8 860.2,943.2 860.2,930.8Z"/>
<path fill="#d8282b" fill-rule="evenodd" d="M558.2,1223.8 556.2,1223.8 554.2,1225.2 554.8,1228.2 557.2,1229.2 560.2,1227.2 560.2,1225.2ZM790.8,864.2 763.2,869.8 737.2,876.8 717.2,883.2 692.8,892.8 672.8,926.2 654.2,953.8 644.8,965.8 636.8,973.8 629.8,979.2 618.2,985.8 612.2,987.8 602.8,988.2 599.2,986.8 593.8,980.8 590.2,971.8 589.8,958.2 590.8,952.2 575.8,964.2 556.2,981.8 533.8,1004.8 518.2,1022.8 517.2,1054.2 516.8,1054.8 516.2,1067.8 514.2,1086.8 510.2,1108.8 504.8,1123.2 500.8,1130.8 495.2,1138.2 489.8,1144.2 484.2,1147.8 478.2,1147.8 474.2,1146.2 469.8,1143.2 462.8,1135.8 458.2,1127.8 456.8,1122.8 445.8,1148.8 437.2,1173.8 429.2,1203.2 423.8,1232.2 426.2,1232.8 437.2,1246.8 448.8,1260.2 455.8,1266.2 461.2,1268.2 467.2,1268.2 470.8,1267.2 482.8,1267.2 485.2,1269.2 487.2,1274.2 487.8,1277.2 487.2,1292.8 489.2,1295.2 494.8,1296.2 542.2,1296.2 544.8,1263.2 548.2,1241.8 551.2,1228.2 555.8,1211.8 566.2,1183.2 566.8,1183.8 566.8,1186.2 568.8,1188.8 571.8,1189.2 573.8,1187.8 573.8,1184.8 571.8,1182.8 568.8,1182.2 566.8,1183.8 566.2,1183.2 571.2,1170.8 585.8,1142.8 603.8,1115.2 615.8,1099.8 621.2,1093.8 622.2,1096.8 625.2,1098.8 628.2,1098.8 630.2,1097.2 630.8,1095.8 630.2,1093.8 628.2,1091.8 623.8,1090.8 631.8,1081.8 651.8,1062.8 652.8,1066.2 654.8,1068.8 657.2,1069.8 659.2,1069.2 661.8,1066.8 661.8,1062.2 660.8,1060.2 660.8,1057.8 662.8,1055.8 685.2,1046.2 691.8,1042.2 711.8,1032.8 719.2,1028.2 741.2,1017.2 748.2,1016.8 751.8,1015.2 753.8,1012.8 754.2,1010.8 753.8,1007.2 751.2,1003.8 752.2,1002.2 767.8,996.8 783.2,992.2 785.2,992.8 784.8,997.8 786.2,1000.2 788.2,1001.2 790.2,1001.2 792.2,1000.2 794.2,996.8 793.8,990.2 795.2,989.2 822.8,984.2 847.8,981.8 858.8,981.8 859.8,980.8 859.8,940.8 859.2,940.2 859.2,930.8 858.2,928.2 856.2,926.8 841.2,927.2 833.2,925.2 830.2,922.2 830.2,911.2 831.2,907.2 831.2,901.8 828.8,895.8 817.8,885.8 793.2,867.8ZM623.2,1091.2 623.8,1090.8 624.2,1091.2 623.8,1091.8Z"/>
<polygon points="1194.6,1320.6 1255.1,1328.5 1255.1,1279.9 1194.6,1287.8" fill="#3450a0" stroke="#28326e" stroke-width="1.3"/>
<polygon points="1198.4,1317.3 1245.4,1321.8 1245.8,1317.4 1198.8,1312.9" fill="none" stroke="#8a1d4c" stroke-width="1.3"/>
<polygon points="1198.8,1295.5 1245.8,1291.0 1245.4,1286.6 1198.4,1291.1" fill="none" stroke="#8a1d4c" stroke-width="1.3"/>
<polygon points="884.1,979.7 892.1,919.6 843.1,919.6 851.1,979.7" fill="#3450a0" stroke="#28326e" stroke-width="1.3"/>
<polygon points="880.8,975.9 885.3,929.2 880.9,928.8 876.4,975.5" fill="none" stroke="#8a1d4c" stroke-width="1.3"/>
<polygon points="858.8,975.5 854.3,928.8 849.9,929.2 854.4,975.9" fill="none" stroke="#8a1d4c" stroke-width="1.3"/>
<polygon points="540.6,1287.8 480.1,1279.9 480.1,1328.5 540.6,1320.6" fill="#3450a0" stroke="#28326e" stroke-width="1.3"/>
<polygon points="536.8,1291.1 489.8,1286.6 489.4,1291.0 536.4,1295.5" fill="none" stroke="#8a1d4c" stroke-width="1.3"/>
<polygon points="536.4,1312.9 489.4,1317.4 489.8,1321.8 536.8,1317.3" fill="none" stroke="#8a1d4c" stroke-width="1.3"/>
<polygon points="851.1,1628.7 843.1,1688.8 892.1,1688.8 884.1,1628.7" fill="#3450a0" stroke="#28326e" stroke-width="1.3"/>
<polygon points="854.4,1632.5 849.9,1679.2 854.3,1679.6 858.8,1632.9" fill="none" stroke="#8a1d4c" stroke-width="1.3"/>
<polygon points="876.4,1632.9 880.9,1679.6 885.3,1679.2 880.8,1632.5" fill="none" stroke="#8a1d4c" stroke-width="1.3"/>
<polygon points="1183.6,1217.4 1245.3,1213.2 1227.0,1157.5 1174.6,1190.1" fill="#3450a0" stroke="#28326e" stroke-width="1.3"/>
<polygon points="1186.0,1215.3 1233.0,1211.1 1232.6,1206.6 1185.6,1210.8" fill="none" stroke="#8a1d4c" stroke-width="1.3"/>
<polygon points="1180.2,1194.2 1220.7,1170.2 1218.4,1166.4 1177.8,1190.4" fill="none" stroke="#8a1d4c" stroke-width="1.3"/>
<polygon points="1109.4,1084.5 1162.5,1053.0 1120.7,1011.5 1088.9,1064.2" fill="#3450a0" stroke="#28326e" stroke-width="1.3"/>
<polygon points="1110.6,1081.5 1150.6,1056.6 1148.2,1052.8 1108.2,1077.7" fill="none" stroke="#8a1d4c" stroke-width="1.3"/>
<polygon points="1095.8,1065.4 1120.9,1025.7 1117.1,1023.3 1092.0,1063.0" fill="none" stroke="#8a1d4c" stroke-width="1.3"/>
<polygon points="982.6,999.5 1015.4,947.5 959.3,929.4 955.0,990.6" fill="#3450a0" stroke="#28326e" stroke-width="1.3"/>
<polygon points="982.3,996.3 1006.5,956.1 1002.6,953.8 978.4,994.0" fill="none" stroke="#8a1d4c" stroke-width="1.3"/>
<polygon points="961.7,988.6 965.9,941.9 961.4,941.5 957.2,988.2" fill="none" stroke="#8a1d4c" stroke-width="1.3"/>
<polygon points="780.2,990.6 775.9,929.4 719.8,947.5 752.6,999.5" fill="#3450a0" stroke="#28326e" stroke-width="1.3"/>
<polygon points="778.0,988.2 773.8,941.5 769.3,941.9 773.5,988.6" fill="none" stroke="#8a1d4c" stroke-width="1.3"/>
<polygon points="756.8,994.0 732.6,953.8 728.7,956.1 752.9,996.3" fill="none" stroke="#8a1d4c" stroke-width="1.3"/>
<polygon points="646.3,1064.2 614.5,1011.5 572.7,1053.0 625.8,1084.5" fill="#3450a0" stroke="#28326e" stroke-width="1.3"/>
<polygon points="643.2,1063.0 618.1,1023.3 614.3,1025.7 639.4,1065.4" fill="none" stroke="#8a1d4c" stroke-width="1.3"/>
<polygon points="627.0,1077.7 587.0,1052.8 584.6,1056.6 624.6,1081.5" fill="none" stroke="#8a1d4c" stroke-width="1.3"/>
<polygon points="560.6,1190.1 508.2,1157.5 489.9,1213.2 551.6,1217.4" fill="#3450a0" stroke="#28326e" stroke-width="1.3"/>
<polygon points="557.4,1190.4 516.8,1166.4 514.5,1170.2 555.0,1194.2" fill="none" stroke="#8a1d4c" stroke-width="1.3"/>
<polygon points="549.6,1210.8 502.6,1206.6 502.2,1211.1 549.2,1215.3" fill="none" stroke="#8a1d4c" stroke-width="1.3"/>
<polygon points="551.6,1391.0 489.9,1395.2 508.2,1450.9 560.6,1418.3" fill="#3450a0" stroke="#28326e" stroke-width="1.3"/>
<polygon points="549.2,1393.1 502.2,1397.3 502.6,1401.8 549.6,1397.6" fill="none" stroke="#8a1d4c" stroke-width="1.3"/>
<polygon points="555.0,1414.2 514.5,1438.2 516.8,1442.0 557.4,1418.0" fill="none" stroke="#8a1d4c" stroke-width="1.3"/>
<polygon points="625.8,1523.9 572.7,1555.4 614.5,1596.9 646.3,1544.2" fill="#3450a0" stroke="#28326e" stroke-width="1.3"/>
<polygon points="624.6,1526.9 584.6,1551.8 587.0,1555.6 627.0,1530.7" fill="none" stroke="#8a1d4c" stroke-width="1.3"/>
<polygon points="639.4,1543.0 614.3,1582.7 618.1,1585.1 643.2,1545.4" fill="none" stroke="#8a1d4c" stroke-width="1.3"/>
<polygon points="752.6,1608.9 719.8,1660.9 775.9,1679.0 780.2,1617.8" fill="#3450a0" stroke="#28326e" stroke-width="1.3"/>
<polygon points="752.9,1612.1 728.7,1652.3 732.6,1654.6 756.8,1614.4" fill="none" stroke="#8a1d4c" stroke-width="1.3"/>
<polygon points="773.5,1619.8 769.3,1666.5 773.8,1666.9 778.0,1620.2" fill="none" stroke="#8a1d4c" stroke-width="1.3"/>
<polygon points="955.0,1617.8 959.3,1679.0 1015.4,1660.9 982.6,1608.9" fill="none" stroke="#55558a" stroke-width="1.1"/>
<polygon points="957.2,1620.2 961.4,1666.9 965.9,1666.5 961.7,1619.8" fill="none" stroke="#8a1d4c" stroke-width="1.3"/>
<polygon points="978.4,1614.4 1002.6,1654.6 1006.5,1652.3 982.3,1612.1" fill="none" stroke="#8a1d4c" stroke-width="1.3"/>
<polygon points="1088.9,1544.2 1120.7,1596.9 1162.5,1555.4 1109.4,1523.9" fill="none" stroke="#55558a" stroke-width="1.1"/>
<polygon points="1092.0,1545.4 1117.1,1585.1 1120.9,1582.7 1095.8,1543.0" fill="none" stroke="#8a1d4c" stroke-width="1.3"/>
<polygon points="1108.2,1530.7 1148.2,1555.6 1150.6,1551.8 1110.6,1526.9" fill="none" stroke="#8a1d4c" stroke-width="1.3"/>
<polygon points="1174.6,1418.3 1227.0,1450.9 1245.3,1395.2 1183.6,1391.0" fill="none" stroke="#55558a" stroke-width="1.1"/>
<polygon points="1177.8,1418.0 1218.4,1442.0 1220.7,1438.2 1180.2,1414.2" fill="none" stroke="#8a1d4c" stroke-width="1.3"/>
<polygon points="1185.6,1397.6 1232.6,1401.8 1233.0,1397.3 1186.0,1393.1" fill="none" stroke="#8a1d4c" stroke-width="1.3"/>
<ellipse cx="867.4" cy="1304.8" rx="325.4" ry="322.2" fill="none" stroke="#2c2f58" stroke-width="1.7"/>
<ellipse cx="867.8" cy="1304.4" rx="165" ry="163.4" fill="none" stroke="#2c2f60" stroke-width="1.3"/>
<path d="M867.5,1068.5 C866,1078 863,1088 859.5,1094 L876.5,1094 C872,1088 869,1078 867.5,1068.5Z" fill="#3aaa3c"/>
<polygon points="1080,1297 1080,1310 1086,1305 1096,1304 1086,1301" fill="#e8262b"/>
<circle cx="866" cy="1303" r="4.5" fill="#5a72b8"/>
<path d="M866,1303 H886" stroke="#5a72b8" stroke-width="1.6"/>
<text x="870" y="1298" font-family="Liberation Sans, sans-serif" font-size="22" fill="#5a72b8">Z</text>
</g>
<g id="legend">
<rect x="130" y="990.60" width="52" height="42.88" fill="#d8282b"/>
<rect x="130" y="1033.08" width="52" height="42.88" fill="#e0452a"/>
<rect x="130" y="1075.56" width="52" height="42.88" fill="#e97b25"/>
<rect x="130" y="1118.04" width="52" height="42.88" fill="#e2c727"/>
<rect x="130" y="1160.52" width="52" height="42.88" fill="#b6d538"/>
<rect x="130" y="1203.00" width="52" height="42.88" fill="#8dc63f"/>
<rect x="130" y="1245.48" width="52" height="42.88" fill="#6bbd31"/>
<rect x="130" y="1287.96" width="52" height="42.88" fill="#5bb535"/>
<rect x="130" y="1330.44" width="52" height="42.88" fill="#61b747"/>
<rect x="130" y="1372.92" width="52" height="42.88" fill="#66bc7a"/>
<rect x="130" y="1415.40" width="52" height="42.88" fill="#66c1b1"/>
<rect x="130" y="1457.88" width="52" height="42.88" fill="#5abbd2"/>
<rect x="130" y="1500.36" width="52" height="42.88" fill="#4582c7"/>
<rect x="130" y="1542.84" width="52" height="42.88" fill="#3b5cae"/>
<rect x="130" y="1585.32" width="52" height="42.88" fill="#344ea0"/>
<g class="t" font-size="51">
<text x="197.3" y="1010.50">1.600 0</text>
<text x="203.5" y="1052.98">1.493 3</text>
<text x="203.5" y="1095.46">1.386 7</text>
<text x="203.5" y="1137.94">1.280 0</text>
<text x="203.5" y="1180.42">1.173 3</text>
<text x="203.5" y="1222.90">1.066 7</text>
<text x="203.5" y="1265.38">0.960 0</text>
<text x="203.5" y="1307.86">0.853 3</text>
<text x="203.5" y="1350.34">0.746 7</text>
<text x="203.5" y="1392.82">0.640 0</text>
<text x="203.5" y="1435.30">0.533 3</text>
<text x="203.5" y="1477.78">0.426 7</text>
<text x="203.5" y="1520.26">0.320 0</text>
<text x="203.5" y="1562.74">0.213 3</text>
<text x="203.5" y="1605.22">0.106 7</text>
<text x="203.5" y="1647.70">0</text>
</g>
<text class="c" font-size="51" x="122.5" y="956">磁密/T</text>
</g>
<g id="scalebar">
<rect x="448.5" y="1778.5" width="834" height="21" fill="#fff" stroke="#333" stroke-width="2"/>
<rect x="864" y="1778.5" width="418.5" height="21" fill="#111"/>
<g class="t" font-size="52">
<text x="447" y="1843" text-anchor="middle">0</text>
<text x="864" y="1843" text-anchor="middle">150</text>
<text x="1246" y="1843">300 mm</text>
</g>
<text class="c" font-size="60" y="1928"><tspan x="652">（</tspan><tspan x="718" font-family="Noto Serif CJK SC" font-size="50">b</tspan><tspan x="750">）</tspan><tspan x="789" font-size="63">分布云图</tspan></text>
</g>
</svg>
</body></html>
